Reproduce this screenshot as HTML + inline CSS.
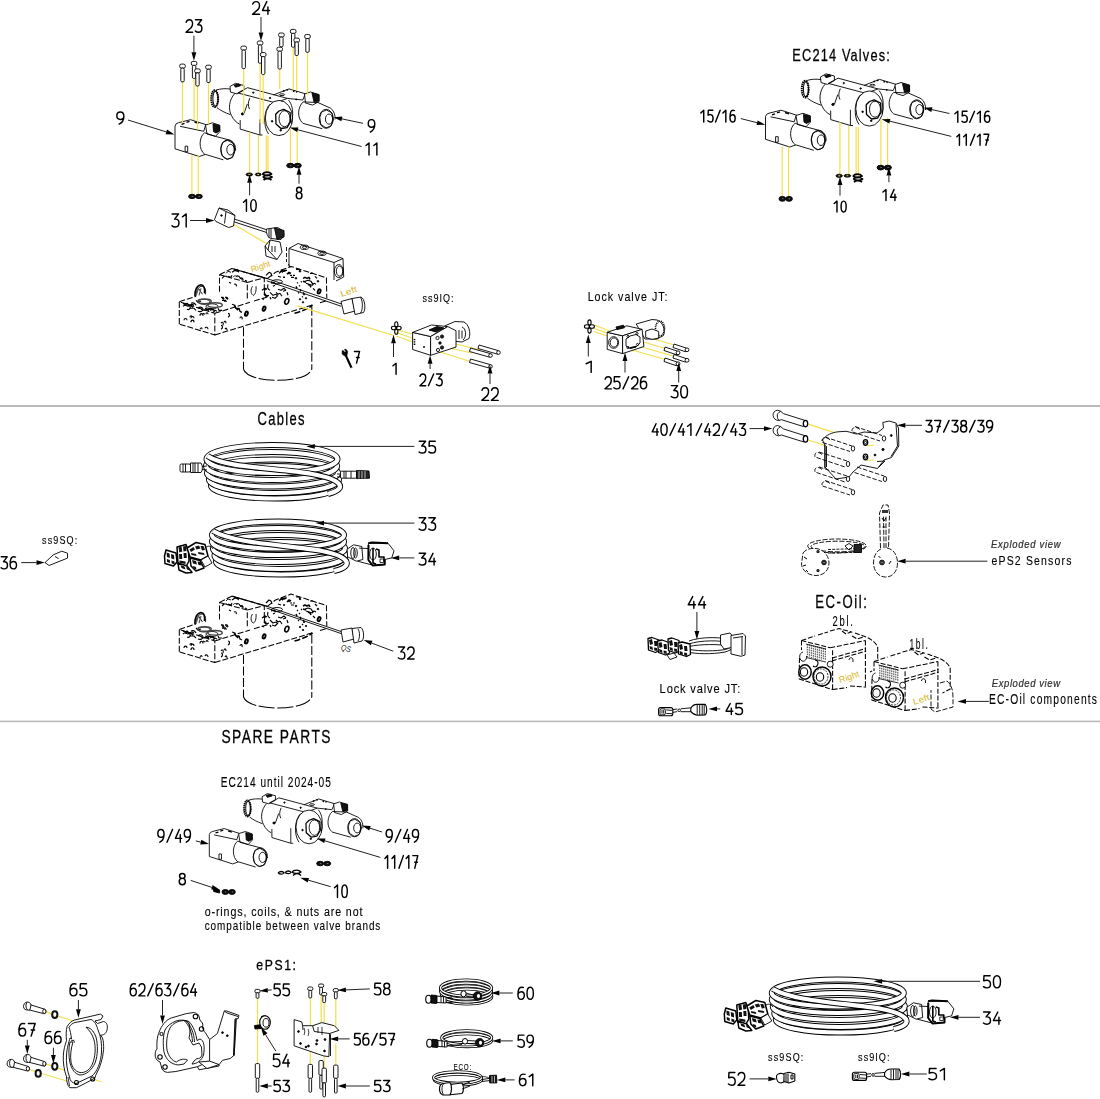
<!DOCTYPE html>
<html><head><meta charset="utf-8"><style>
html,body{margin:0;padding:0;background:#fff;width:1100px;height:1099px;overflow:hidden}
svg{position:absolute;left:0;top:0;display:block}
text{font-family:"Liberation Sans",sans-serif;fill:#000}
.ar line{stroke:#222;stroke-width:1}
.ah{fill:#000}
.sep{fill:#bababa}
.tx{filter:grayscale(1)}
.dr text{stroke:none}
.sd{fill:none;stroke:#000;stroke-width:1.45;stroke-linecap:round;stroke-linejoin:round}
</style></head><body>
<svg width="1100" height="1099" viewBox="0 0 1100 1099">
<rect class="sep" x="0" y="405" width="1100" height="2"/><rect class="sep" x="0" y="720.6" width="1100" height="1.6"/>
<g class="dr"><g fill="none" stroke="#000" stroke-width="0.9" stroke-linejoin="round"><defs>
<g id="V">
 <!-- left valve -->
 <path d="M765.5,139.3 L765.5,116.5 Q766,113.8 769,113.2 L781,110.2 L797,115.3"/>
 <path d="M765.5,139.3 L789.8,147 L795.6,145"/>
 <path d="M770.5,116.8 L794.2,121.8 L796,116"/>
 <path d="M772,114.8 l3,-1 M777,112.8 l3,-1 M785,112.5 l4,1.3" stroke-width="1.4"/>
 <rect x="775.6" y="136.7" width="2.6" height="5.5"/>
 <path d="M796,115.5 L803,113.3 L810.3,115.8 L810.5,122 L806,126.8 L797.5,124.5 Z" fill="#fff"/>
 <path d="M803.5,114.5 L810,116.2 L810,121.5 L806.5,123.5 L804,122 Z" fill="#111"/>
 <path d="M795.2,123.2 C789.5,127 788.5,140 795.6,145.2 M795.2,123.3 L806,126.9 M806,126.9 L821,130.8 C825,133 826.5,137 826,141 M795.6,144.8 L813.8,150.3"/>
 <ellipse cx="818.2" cy="140" rx="7" ry="9.6"/>
 <path d="M813,133 L818,130.8 L824,134 L825.5,141 L823,148 L817.5,149.8 L812.5,146 L811.4,139 Z"/>
 <ellipse cx="821" cy="140.2" rx="3.7" ry="5.3"/>
 <!-- central valve -->
 <ellipse cx="805.2" cy="89.2" rx="3.4" ry="8.3" stroke-width="2.1" stroke-dasharray="1.5 0.6"/>
 <ellipse cx="806" cy="89.2" rx="2.6" ry="7.6" stroke-width="1"/>
 <path d="M806.5,80.6 C811,79.2 816,78.8 821,79.6 M807.5,98.2 C811,101 815,103 821,105.2"/>
 <path d="M820.5,77 L826,73.8 L834.4,76 L834.4,80.6 L827.5,84.4 L821,82.6 Z" fill="#fff"/>
 <path d="M824.5,75.6 l5,-1.2 l1.5,1.8 l-5,1.5z" fill="#111"/>
 <path d="M828.3,83.4 L838.1,78.2 L877.9,88.9 L865.9,93.3 Z"/>
 <path d="M825.2,84.2 C819.5,90 818.5,100 822,106 C824,110.5 827,113 830,114.6 M830.7,110.6 L830.7,119.6 L850.4,125.5 L853,125.5 M850.4,109.8 L850.4,125.4"/>
 <path d="M840.3,88.6 C838.5,93 838.2,96 840,99.5 M837.8,94.5 L834.5,104 L831.5,104.5" />
 <circle cx="833" cy="104.4" r="1.1" fill="#000"/>
 <path d="M860.8,94.5 C854.5,100 853,116 859,124.5"/>
 <ellipse cx="869.4" cy="108.5" rx="13.6" ry="17.6" fill="#fff"/>
 <path d="M869.5,101.5 L874.2,99.8 L880.6,103 L881.2,112 L877.5,118.2 L871.5,119 L866.5,114.5 L866.2,104.8 Z" stroke-width="1.3"/>
 <ellipse cx="875" cy="109.2" rx="5.5" ry="8"/>
 <circle cx="862.6" cy="111.8" r="0.8" fill="#000"/><circle cx="871.2" cy="120.8" r="0.8" fill="#000"/>
 <circle cx="843.8" cy="83.1" r="0.7" fill="#000"/><circle cx="860.6" cy="88.5" r="0.7" fill="#000"/>
 <!-- right valve -->
 <path d="M864,85.4 L879.5,79.4 L895.9,84.3 L893.2,90.5 L877.9,88.9"/>
 <ellipse cx="872.5" cy="85.2" rx="2.6" ry="0.9"/>
 <path d="M873.5,81.8 l1.5,-0.6 M877,80.5 l1.5,-0.3 M883.5,81.5 l1.5,0.5 M886.5,82.2 l1.2,0.4 M886,89.8 l1.5,0.2" stroke-width="1.6"/>
 <path d="M879.1,90.6 C882.5,95 883.6,100 883,108 C882.8,111 882.4,113 882.3,114.2"/>
 <path d="M895,84.5 L901,82.5 L909.6,85 L909.6,92 L903,95.6 L896,93.5 Z" fill="#fff"/>
 <path d="M902.5,83.6 L909.3,85.5 L909.3,91.5 L904.5,92.5 Z" fill="#111"/>
 <path d="M893.7,92.4 C888.5,97 887,108 893.1,113.4 M893.7,92.4 L908.4,93 L921.1,98.7 C924.5,101 926,106 925.5,110 M893.3,113.8 L912.8,119.2"/>
 <ellipse cx="916.7" cy="109.3" rx="7" ry="9.5" fill="#fff"/>
 <path d="M912,102.5 L917,100.5 L922.5,103.5 L923.8,110 L921.5,116.5 L916.5,118.3 L911.3,115 L910.3,108 Z"/>
 <ellipse cx="919.5" cy="109.6" rx="3.6" ry="5.1"/>
</g>
</defs>
<g fill="none" stroke="#000" stroke-width="0.9" stroke-linejoin="round">
<use href="#V"/>
<use href="#V" transform="translate(-590.5,9.5)"/>
<use href="#V" transform="translate(209.3,856.5) scale(0.96) translate(-765.5,-139.3)"/>
</g>

<line x1="839.90" y1="122.00" x2="839.90" y2="174.50" stroke="#f2df4a" stroke-width="1.2"/>
<line x1="848.80" y1="125.90" x2="848.80" y2="174.50" stroke="#f2df4a" stroke-width="1.2"/>
<line x1="856.10" y1="126.90" x2="856.10" y2="176.00" stroke="#f2df4a" stroke-width="1.2"/>
<line x1="858.30" y1="126.90" x2="858.30" y2="176.00" stroke="#f2df4a" stroke-width="1.2"/>
<line x1="880.90" y1="119.50" x2="880.90" y2="166.00" stroke="#f2df4a" stroke-width="1.2"/>
<line x1="887.60" y1="117.50" x2="887.60" y2="166.00" stroke="#f2df4a" stroke-width="1.2"/>
<line x1="782.20" y1="146.50" x2="782.20" y2="197.50" stroke="#f2df4a" stroke-width="1.2"/>
<line x1="788.60" y1="146.50" x2="788.60" y2="197.50" stroke="#f2df4a" stroke-width="1.2"/>
<ellipse cx="839.20" cy="175.80" rx="3.20" ry="1.60" fill="#111" stroke="#000" stroke-width="0.8"/>
<ellipse cx="839.20" cy="175.80" rx="1.12" ry="0.64" fill="#f2df4a" stroke="none"/>
<ellipse cx="847.40" cy="175.80" rx="3.40" ry="1.40" fill="#111" stroke="#000" stroke-width="0.8"/>
<ellipse cx="847.40" cy="175.80" rx="1.19" ry="0.56" fill="#f2df4a" stroke="none"/>
<path d="M853,176 c2,-2.5 7,-2.5 9,0 c-2,2 -7,2 -9,0 M853.5,179 c2,-2.5 7,-2.5 9,0 c-2,2 -7,2 -9,0 M854,182 c2,-2 6,-2 8,0" fill="none" stroke="#000" stroke-width="1.8"/>
<ellipse cx="880.67" cy="167.60" rx="3.57" ry="2.40" fill="#111"/>
<ellipse cx="881.07" cy="167.60" rx="1.43" ry="0.96" fill="#888"/>
<ellipse cx="887.83" cy="167.60" rx="3.57" ry="2.40" fill="#111"/>
<ellipse cx="888.23" cy="167.60" rx="1.43" ry="0.96" fill="#888"/>
<ellipse cx="782.35" cy="198.85" rx="3.35" ry="2.45" fill="#111"/>
<ellipse cx="782.75" cy="198.85" rx="1.34" ry="0.98" fill="#888"/>
<ellipse cx="789.05" cy="198.85" rx="3.35" ry="2.45" fill="#111"/>
<ellipse cx="789.45" cy="198.85" rx="1.34" ry="0.98" fill="#888"/>
<line x1="243.70" y1="68.60" x2="243.70" y2="113.60" stroke="#f2df4a" stroke-width="1.2"/>
<line x1="260.10" y1="63.20" x2="260.10" y2="123.00" stroke="#f2df4a" stroke-width="1.2"/>
<line x1="263.20" y1="74.50" x2="263.20" y2="124.00" stroke="#f2df4a" stroke-width="1.2"/>
<line x1="279.70" y1="69.00" x2="279.70" y2="89.00" stroke="#f2df4a" stroke-width="1.2"/>
<line x1="293.20" y1="47.20" x2="293.20" y2="90.00" stroke="#f2df4a" stroke-width="1.2"/>
<line x1="296.70" y1="55.50" x2="296.70" y2="91.00" stroke="#f2df4a" stroke-width="1.2"/>
<line x1="307.50" y1="52.30" x2="307.50" y2="95.00" stroke="#f2df4a" stroke-width="1.2"/>
<line x1="182.50" y1="81.90" x2="182.50" y2="122.70" stroke="#f2df4a" stroke-width="1.2"/>
<line x1="194.10" y1="78.40" x2="194.10" y2="120.00" stroke="#f2df4a" stroke-width="1.2"/>
<line x1="197.50" y1="86.00" x2="197.50" y2="129.60" stroke="#f2df4a" stroke-width="1.2"/>
<line x1="208.50" y1="82.50" x2="208.50" y2="124.10" stroke="#f2df4a" stroke-width="1.2"/>
<rect x="240.90" y="46.10" width="5.60" height="4.00" rx="1.6" fill="#fff"/>
<rect x="242.00" y="50.10" width="3.40" height="18.50" rx="1.2" fill="#fff"/>
<rect x="257.30" y="41.00" width="5.60" height="4.00" rx="1.6" fill="#fff"/>
<rect x="258.40" y="45.00" width="3.40" height="18.20" rx="1.2" fill="#fff"/>
<rect x="260.40" y="52.60" width="5.60" height="4.00" rx="1.6" fill="#fff"/>
<rect x="261.50" y="56.60" width="3.40" height="17.90" rx="1.2" fill="#fff"/>
<rect x="276.90" y="47.20" width="5.60" height="4.00" rx="1.6" fill="#fff"/>
<rect x="278.00" y="51.20" width="3.40" height="17.80" rx="1.2" fill="#fff"/>
<rect x="278.60" y="33.00" width="5.60" height="4.00" rx="1.6" fill="#fff"/>
<rect x="279.70" y="37.00" width="3.40" height="9.80" rx="1.2" fill="#fff"/>
<rect x="290.40" y="29.40" width="5.60" height="4.00" rx="1.6" fill="#fff"/>
<rect x="291.50" y="33.40" width="3.40" height="13.80" rx="1.2" fill="#fff"/>
<rect x="293.90" y="38.10" width="5.60" height="4.00" rx="1.6" fill="#fff"/>
<rect x="295.00" y="42.10" width="3.40" height="13.40" rx="1.2" fill="#fff"/>
<rect x="304.70" y="34.50" width="5.60" height="4.00" rx="1.6" fill="#fff"/>
<rect x="305.80" y="38.50" width="3.40" height="13.80" rx="1.2" fill="#fff"/>
<rect x="179.70" y="64.10" width="5.60" height="4.00" rx="1.6" fill="#fff"/>
<rect x="180.80" y="68.10" width="3.40" height="13.80" rx="1.2" fill="#fff"/>
<rect x="191.30" y="61.40" width="5.60" height="4.00" rx="1.6" fill="#fff"/>
<rect x="192.40" y="65.40" width="3.40" height="13.00" rx="1.2" fill="#fff"/>
<rect x="194.70" y="68.90" width="5.60" height="4.00" rx="1.6" fill="#fff"/>
<rect x="195.80" y="72.90" width="3.40" height="13.10" rx="1.2" fill="#fff"/>
<rect x="205.70" y="65.20" width="5.60" height="4.00" rx="1.6" fill="#fff"/>
<rect x="206.80" y="69.20" width="3.40" height="13.30" rx="1.2" fill="#fff"/>
<line x1="249.60" y1="132.00" x2="249.60" y2="173.00" stroke="#f2df4a" stroke-width="1.2"/>
<line x1="258.40" y1="134.90" x2="258.40" y2="173.00" stroke="#f2df4a" stroke-width="1.2"/>
<line x1="266.30" y1="135.60" x2="266.30" y2="173.00" stroke="#f2df4a" stroke-width="1.2"/>
<line x1="268.00" y1="135.60" x2="268.00" y2="173.00" stroke="#f2df4a" stroke-width="1.2"/>
<line x1="290.40" y1="128.40" x2="290.40" y2="165.50" stroke="#f2df4a" stroke-width="1.2"/>
<line x1="297.20" y1="126.20" x2="297.20" y2="165.50" stroke="#f2df4a" stroke-width="1.2"/>
<line x1="191.90" y1="155.00" x2="191.90" y2="195.00" stroke="#f2df4a" stroke-width="1.2"/>
<line x1="198.20" y1="155.00" x2="198.20" y2="195.00" stroke="#f2df4a" stroke-width="1.2"/>
<ellipse cx="249.30" cy="174.50" rx="3.30" ry="1.50" fill="#111" stroke="#000" stroke-width="0.8"/>
<ellipse cx="249.30" cy="174.50" rx="1.15" ry="0.60" fill="#f2df4a" stroke="none"/>
<ellipse cx="258.20" cy="174.50" rx="3.00" ry="1.40" fill="#111" stroke="#000" stroke-width="0.8"/>
<ellipse cx="258.20" cy="174.50" rx="1.05" ry="0.56" fill="#f2df4a" stroke="none"/>
<path d="M262.5,174 c2,-2.5 7,-2.5 9,0 c-2,2 -7,2 -9,0 M263,177 c2,-2.5 7,-2.5 9,0 c-2,2 -7,2 -9,0 M263.5,180 c2,-2 6,-2 8,0" fill="none" stroke="#000" stroke-width="1.8"/>
<ellipse cx="290.35" cy="165.55" rx="3.65" ry="2.25" fill="#111"/>
<ellipse cx="290.75" cy="165.55" rx="1.46" ry="0.90" fill="#888"/>
<ellipse cx="297.65" cy="165.55" rx="3.65" ry="2.25" fill="#111"/>
<ellipse cx="298.05" cy="165.55" rx="1.46" ry="0.90" fill="#888"/>
<ellipse cx="192.03" cy="196.45" rx="3.43" ry="2.15" fill="#111"/>
<ellipse cx="192.43" cy="196.45" rx="1.37" ry="0.86" fill="#888"/>
<ellipse cx="198.88" cy="196.45" rx="3.43" ry="2.15" fill="#111"/>
<ellipse cx="199.28" cy="196.45" rx="1.37" ry="0.86" fill="#888"/>
<ellipse cx="320.20" cy="863.55" rx="3.50" ry="2.25" fill="#111"/>
<ellipse cx="320.60" cy="863.55" rx="1.40" ry="0.90" fill="#888"/>
<ellipse cx="327.20" cy="863.55" rx="3.50" ry="2.25" fill="#111"/>
<ellipse cx="327.60" cy="863.55" rx="1.40" ry="0.90" fill="#888"/>
<path d="M278,873 c2,-2 5,-2 6,0 c-1,1.5 -4,1.5 -6,0 M285,872.5 c2,-2 5,-2 6,0 c-1,1.5 -4,1.5 -6,0 M292,872 c2,-2.5 7,-2.5 9,0 c-2,2 -7,2 -9,0 M293,875.5 c2,-2.5 6,-2.5 8,0" fill="none" stroke="#000" stroke-width="1.3"/>
<path d="M213.6,888.5 l6,1.5 l0,3 l-6,-1.5z" fill="#000"/>
<ellipse cx="225.32" cy="891.95" rx="3.33" ry="2.45" fill="#111"/>
<ellipse cx="225.72" cy="891.95" rx="1.33" ry="0.98" fill="#888"/>
<ellipse cx="231.98" cy="891.95" rx="3.33" ry="2.45" fill="#111"/>
<ellipse cx="232.38" cy="891.95" rx="1.33" ry="0.98" fill="#888"/>
<defs>
<g id="M">
 <g stroke-dasharray="6 2" stroke-width="1.05">
  <path d="M179.3,651.8 L179.3,629.4 L214.8,641 L214.8,662.6 L179.3,651.8"/>
  <path d="M214.8,662.6 L312.7,632.7 M320,630.5 L327.3,628.3"/>
  <path d="M214.8,641 L250,630 M254,628.8 L268,624.5"/>
  <path d="M179.3,629.4 L196,624"/>
  <path d="M219.5,619.4 L219.5,602.4 L247.3,610.1 L247.3,627.1 M247.3,610.1 L264.3,605.5 L264.3,622.5 M219.5,602.4 L231.8,596.2 L264.3,605.5"/>
  <path d="M267.3,606.4 L275.5,600 L290.9,594.1 L326.4,605.5 L326.8,626"/>
  <path d="M243.5,655 L243.5,697 M311.8,634.5 L311.8,697" stroke-dasharray="9 2.5"/>
  <path d="M243.5,697 C246,704 260,708 277.7,708 C295,708 309,704 311.8,697" stroke-dasharray="16 2.5"/>
  <path d="M294.5,641 C303,638.5 309,636 312.5,632.8" stroke-width="1.6"/>
 </g>
  <path d="M231.8,596.2 L267.3,606.4" stroke-width="1.2"/>
 <path d="M196,624 C196,617 199,614 202,614 C205,614 206,617 205.5,622 M198.5,616 l4,6" />
 <ellipse cx="204" cy="629.5" rx="6" ry="2.5"/><ellipse cx="212" cy="634" rx="6" ry="2.5"/>
 <path d="M185,633 l3,1 l2,-1 l3,2 M190,636 l4,0 l2,2 M201,637 l3,1 l3,-1 l2,2 M222,626 l2,1 M226,626 l2,1 M224,629 l3,0 M232,632 l3,1 l1,3 l3,1 M236,636 l2,2" stroke-width="1.1"/>
 <path d="M226,601 l2,-2 l3,1 M233,605 c1,-2 3,-2 4,0" />
 <path d="M252.5,614 C250.5,617 250.5,621 253,623 C255,623 256.5,619 256,614" />
 <path d="M268,612 c-1,3 0,5 2,6 M270,620 l3,3 l3,-1 l2,2 M278,617 l3,1 l3,-2 l2,2 M280,621 l2,3 M273,614 l2,-1" stroke-width="1.1"/>
 <path d="M279,601 l2,-2 l2,1 M278,604 l3,1 M290,603 l2,0 M293,603 l2,0 M291,605 l3,0 M305,609 l3,-1 l3,1 l2,3 M306,611 l3,1 M299,613 l1,1 M300,617 l1,1 M303,620 l1,1 M298,620 l1,1 M302,624 l1,1" stroke-width="1.2"/>
 <ellipse cx="277" cy="609.5" rx="5.5" ry="2" fill="#fff"/>
 <ellipse cx="246.4" cy="641.4" rx="1.3" ry="2.2" stroke-width="1.9" transform="rotate(20 246.4 641.4)"/>
 <ellipse cx="264.1" cy="636.4" rx="1.3" ry="2.2" stroke-width="1.9" transform="rotate(20 264.1 636.4)"/>
 <ellipse cx="286.8" cy="629.1" rx="1.9" ry="2.9" stroke-width="1.6" transform="rotate(20 286.8 629.1)"/>
 <ellipse cx="319.1" cy="619.1" rx="1.3" ry="2.2" stroke-width="1.9" transform="rotate(20 319.1 619.1)"/>
 <path d="M190,645 c0,-2 2,-2 2,0 M206,642 c0,-2 2,-2 2,0 M200,657 c1,-2 2,-2 2,0 M224,650 c1,-2 2,-1 2,1 M225,657 c1,-2 2,-1 2,1" stroke-width="1.1"/>

 <path d="M183,634 c2,-2 5,-2 7,0 c1,2 -1,4 -3,3 M191,631 c2,-1 4,0 5,2 M198,636 c2,-2 5,-1 5,1 c0,2 -3,3 -5,2 M208,638 c1,-2 4,-2 5,0 M213,640 l2,-2 l2,1 M196,628 l2,2 l3,-1 M218,636 l1,2 l3,0 M203,641 l2,1" stroke-width="1.2"/>
 <path d="M184,648 c0,-2.5 3,-2.5 3,0 M191,646 c0,-2.5 3,-2.5 3,0 M205,656 c1,-2 3,-1 3,1 M221,651 c1,-2 3,-1 2,2 M240,646 c0,-2 3,-2 2,1" stroke-width="1.1"/>
 <path d="M222,606 l2,-2 l3,0 M228,604 l3,1 l1,-2 M236,604 c2,-1 4,0 4,2 M240,606 l2,1 M229,610 l2,1 M234,612 c2,-1 3,1 2,2" stroke-width="1.1"/>
 <path d="M266,616 c-2,2 -2,5 0,7 l2,1 M271,611 l3,-1 l2,2 M276,620 l2,2 l2,-1 M283,619 l3,-1 M287,620 l1,3 M272,625 l3,1 l2,-2 M266,603 l3,-3 l2,1 l1,3" stroke-width="1.2"/>
 <path d="M282,600 l2,-2 l3,0 M296,597 l3,0 l1,2 M310,601 l3,0 M315,604 l2,2 M309,612 l3,1 l2,-2 l2,1 M313,616 l2,2 M297,610 l1,1 M301,609 l1,1" stroke-width="1.2"/>
 <circle cx="289" cy="601" r="0.8" fill="#000"/><circle cx="300" cy="599" r="0.8" fill="#000"/><circle cx="296" cy="606" r="0.8" fill="#000"/><circle cx="318" cy="609" r="0.8" fill="#000"/>
 <circle cx="304" cy="622" r="0.7" fill="#000"/><circle cx="306" cy="626" r="0.7" fill="#000"/><circle cx="300" cy="627" r="0.7" fill="#000"/><circle cx="303" cy="630" r="0.7" fill="#000"/>

 <path d="M195,624 C194.5,618 197,613 201,612.5 C204,612.5 205,616 204.5,621" stroke-width="1.6"/>
 <path d="M196.5,622 l2,-6 M199,623 l2,-7" stroke-width="1.2" stroke="#555"/>
 <ellipse cx="204.5" cy="629" rx="6.8" ry="2.3" stroke-width="1.4" stroke="#444"/>
 <ellipse cx="215" cy="632.8" rx="7.3" ry="2.3" stroke-width="1.4" stroke="#444"/>
 <path d="M183,631 l2,1 l2,-1 l2,2 l3,-1 l2,1 M205,636 l3,1 l2,-1 l3,1 l2,2 M210,638 l2,-1 M234,633 l2,3 l3,0 l1,3 l2,1 M221,625 l2,0 l1,2 M225,625 l2,0 l1,2 M222,628 l4,0" stroke-width="1.3"/>
 <path d="M200,643.5 c0,-3 3,-3 3,0 M191,650 c0,-3 3,-3 3,0 M228,641 c2,0 2,3 0,4 M221,653 c2,0 2,3 0,4" stroke-width="1.2"/>
 <path d="M232,600 l3,-2 l3,1 M236,598 c2,-1 3,1 2,2 M240,606 c2,-1 3,0 3,2 M245,608 l2,1" stroke-width="1.3"/>
 <path d="M280,600 l2,-2 l2,1 l2,-1 M287,602 l2,-2 l2,1 M283,605 l2,0 M303,606 l2,-1 l2,1 l2,-1 l1,2 M303,609 l3,1 M308,612 l2,1 l1,2 M296,614 l1,2 M300,618 l1,1" stroke-width="1.5"/>
 <path d="M262,618 l3,-2 l2,1 M264,622 l2,2 l3,-1 M270,625 l1,2 M262,626 l2,1" stroke-width="1.3"/>
</g>
</defs>

<use href="#M"/>
<use href="#M" transform="translate(0,-327.7)"/>
<!-- QS cable middle -->
<path d="M266,606 L341,631.5 M266.5,608 L341,633.5" stroke-width="0.9"/>
<path d="M341,630 L352,628 L354,639 L343,642 Z" fill="#fff"/>
<path d="M352,628.5 L361,627.5 C364,630 364.5,638 362,641 L354,643 Z" fill="#fff"/>
<path d="M358,629 C360,632 360,638 358,641" />
<text x="340.5" y="650" font-size="8" font-style="italic" style="fill:#222;stroke:none" transform="rotate(12 340 650)" textLength="10" lengthAdjust="spacingAndGlyphs">QS</text>
<!-- top extras -->
<path d="M231.7,223.2 L272.6,247.1" stroke="#f2df4a" stroke-width="1.2"/>
<path d="M297.4,305.9 L394,335.5" stroke="#f2df4a" stroke-width="1.2"/>
<path d="M214.5,219.5 L219,208 L228,210 L235,215.5 L233.5,226 L228.5,227.5 L216,221.5 Z" fill="#fff"/>
<path d="M219,208 L226,211.5 L224.5,223.5 M226,211.5 L235,215.5" />
<circle cx="221.5" cy="215.5" r="0.8" fill="#000"/>
<path d="M234.8,219.2 L267.5,230 M234,221.8 L267,232.6" />
<path d="M266.5,229 L277,227.5 C281,228.5 284,232 284,235 L281,239.5 L270.5,238.5 C267,236.5 266,232 266.5,229 Z" fill="#fff"/>
<path d="M274.5,228 L284,230.5 L284,237 L277,239.5 Z" fill="#222"/>
<path d="M269,229 l0,9 M271,228.5 l0,9.5" />
<path d="M265,246 L270,240 L280,242 L282,252 L277,259.5 L266,256 Z" fill="#fff"/>
<path d="M270,240 L268,250 L277,259.5 M268,250 L265,246 M272,246 l0,6 M275,246 l0,6" />
<!-- extra valve block -->
<g stroke-dasharray="4 2"><path d="M286.5,247 L286.5,262 M288.5,264 L290,268"/></g>
<path d="M289,248.5 L298,243.5 L343,258.5 L343.7,277 L336,281 M289,248.5 L334,262.5 L343,258.5 M334,262.5 L334,280 M289,248.5 L289,266"/>
<ellipse cx="304.5" cy="247.3" rx="4.2" ry="2.2"/><ellipse cx="304.5" cy="247.3" rx="2.2" ry="1.1"/>
<ellipse cx="322" cy="253.3" rx="4.2" ry="2.2"/><ellipse cx="322" cy="253.3" rx="2.2" ry="1.1"/>
<ellipse cx="338.8" cy="271.1" rx="4.5" ry="6.5"/><ellipse cx="339.5" cy="271.1" rx="3.2" ry="5"/>
<!-- top cable to Left connector -->
<path d="M267,278.5 L341.5,304 M266.8,280.8 L341.3,306.3" />
<path d="M341,301.5 L352,298.5 L355,311 L344,314 Z" fill="#fff"/>
<path d="M352,298.5 L361,297 C365,299 366,309 363.5,312.5 L355,314.5 Z" fill="#fff"/>
<path d="M360.5,297.5 C363,301 363,310 360.5,313" />
<text x="252" y="272.5" font-size="8.6" style="fill:#d9b52a;stroke:none" transform="rotate(-19 252 272.5)" textLength="20" lengthAdjust="spacingAndGlyphs">Right</text>
<text x="341.5" y="297" font-size="8.6" style="fill:#d9b52a;stroke:none" transform="rotate(-19 341.5 297)" textLength="17" lengthAdjust="spacingAndGlyphs">Left</text>

<!-- ss9IQ lock block -->
<path d="M412,334 L394,329 M412,338 L396,332.5 M413,342 L396,336" stroke="#f2df4a" stroke-width="1.1"/>
<path d="M440,340 L480,350 M440,346 L472,353 M440,352 L472,362" stroke="#f2df4a" stroke-width="1.1"/>
<path d="M444.5,326 L455,321.5 L464,322 C469,324.5 471,333 469,338.5 L462,342 L452,341 Z" fill="#fff"/>
<path d="M462,327 C466,328 467,337 463,340 M459,330 L459,339 M462,330.5 l0,8" />
<path d="M412.6,332.4 L430.6,336.5 L430.6,355.3 L412.6,349.5 Z" fill="#fff"/>
<path d="M412.6,332.4 L431.5,325 L447.8,326.6 L430.6,336.5 Z" fill="#fff"/>
<path d="M430.6,336.5 L447.8,326.6 L456,330.7 L456,347.1 L430.6,355.3 Z" fill="#fff"/>
<path d="M429,330 L437,326.5 L444,328 L436,332 Z" fill="#111"/>
<path d="M414.5,339 l0,6" stroke-width="1.6" stroke-dasharray="1 0.7"/>
<circle cx="424" cy="347" r="0.6" fill="#000"/>
<circle cx="437.5" cy="338" r="1.6"/><circle cx="442" cy="336.5" r="1.6" fill="#222"/>
<circle cx="438" cy="350" r="1.6"/><circle cx="442" cy="347.5" r="1.6" fill="#222"/><circle cx="440" cy="343" r="1.2" fill="#222"/>
<g fill="#fff">
<path d="M479,345 L498,350.5 A1.5,1.8 0 0,1 497,354 L478,348.5 Z"/><circle cx="498.5" cy="352.5" r="1.8"/>
<path d="M470.5,348 L490,353.5 A1.5,1.8 0 0,1 489,357 L469.5,351.5 Z"/><circle cx="490.5" cy="355.5" r="1.8"/>
<path d="M470.5,359 L490,364.5 A1.5,1.8 0 0,1 489,368 L469.5,362.5 Z"/><circle cx="490.5" cy="366.5" r="1.8"/>
</g>
<g stroke-width="1.1"><ellipse cx="396.3" cy="324.5" rx="1.6" ry="2.8"/><ellipse cx="396.3" cy="331.5" rx="1.6" ry="2.8"/><ellipse cx="394" cy="328" rx="2.6" ry="1.8"/><ellipse cx="398.6" cy="328" rx="2.6" ry="1.8"/></g>
<!-- wrench 7 -->
<path d="M342.2,350.5 L343.8,351 L344.8,352.6 L345.8,351.4 L344.5,349.4 L346,349.2 L347.6,351.2 L347.2,354.6 L346.8,356 L345.5,356.3 L343.6,355.2 L342.1,354 Z" fill="#000" stroke-width="0.6"/>
<path d="M345.6,355 L351.6,368" stroke-width="2.1"/>
<circle cx="351.6" cy="368.2" r="0.7" fill="#fff" stroke="none"/>
<!-- Lock valve JT -->
<path d="M594,325 L610,331 M594,328.5 L610,334 M594,331.5 L610,337" stroke="#f2df4a" stroke-width="1.1"/>
<path d="M640,335 L676,345.5 M640,341 L667,349 M632,344 L676,357 M632,350 L667,360" stroke="#f2df4a" stroke-width="1.1"/>
<path d="M636.2,324 L652,319.5 L657,320 C663,322 665.5,330 663.5,335.5 L657,339 L645,339 Z" fill="#fff"/>
<ellipse cx="660" cy="328.5" rx="4.5" ry="7.3" stroke-width="1.6" stroke-dasharray="1 0.8"/>
<path d="M645.7,331 L652,329 L658.7,331.5 L658.7,338 L652,339.4 L645.7,337.5 Z" fill="#fff"/>
<path d="M607.2,332.3 L622.6,335.8 L622.6,353.6 L607.2,349.4 Z" fill="#fff"/>
<path d="M607.2,332.3 L626.7,325.8 L642.1,329.3 L622.6,335.8 Z" fill="#fff"/>
<path d="M622.6,335.8 L642.1,329.3 L643.9,346.5 L622.6,353.6 Z" fill="#fff"/>
<ellipse cx="613.6" cy="342.5" rx="5" ry="5.8"/><ellipse cx="614" cy="342.5" rx="3.8" ry="4.6"/>
<path d="M616,327 L623.5,325.2 L624.4,327.8 L617,329.6 Z" fill="#111"/>
<path d="M626,339 L630,336 L636,334.5 L640,337 L640,343 L636,347 L630,348.5 L626,346 Z"/>
<circle cx="628" cy="336.5" r="1.1"/><circle cx="637" cy="333.5" r="1.1"/><circle cx="628" cy="347.5" r="1.1"/><circle cx="637.5" cy="344.5" r="1.1"/>
<path d="M630,348 L636,346.5" stroke-width="1.8"/>
<g fill="#fff">
<path d="M674,344 L686,348 A1.6,1.9 0 0,1 685,351.6 L673,347.5 Z"/><circle cx="687" cy="349.8" r="1.9"/>
<path d="M665,347 L677,351 A1.6,1.9 0 0,1 676,354.6 L664,350.5 Z"/><circle cx="678" cy="352.8" r="1.9"/>
<path d="M674,354.5 L686,358.5 A1.6,1.9 0 0,1 685,362 L673,358 Z"/><circle cx="687" cy="360.3" r="1.9"/>
<path d="M665,358 L677,362 A1.6,1.9 0 0,1 676,365.6 L664,361.5 Z"/><circle cx="678" cy="363.8" r="1.9"/>
</g>
<g stroke-width="1.1"><ellipse cx="589.5" cy="322.5" rx="1.6" ry="2.6"/><ellipse cx="589.5" cy="330.5" rx="1.6" ry="2.6"/><ellipse cx="587" cy="326.5" rx="2.6" ry="1.8"/><ellipse cx="591.8" cy="326.5" rx="2.6" ry="1.8"/></g>

<path d="M211.00,485.50 a64.00,13.00 0 1,0 128.00,0 a64.00,13.00 0 1,0 -128.00,0" fill="none" stroke="#000" stroke-width="6.00"/>
<path d="M211.00,485.50 a64.00,13.00 0 1,0 128.00,0 a64.00,13.00 0 1,0 -128.00,0" fill="none" stroke="#fff" stroke-width="4.20"/>
<path d="M209.00,479.50 a65.00,13.50 0 1,0 130.00,0 a65.00,13.50 0 1,0 -130.00,0" fill="none" stroke="#000" stroke-width="6.00"/>
<path d="M209.00,479.50 a65.00,13.50 0 1,0 130.00,0 a65.00,13.50 0 1,0 -130.00,0" fill="none" stroke="#fff" stroke-width="4.20"/>
<path d="M207.00,473.00 a65.50,13.50 0 1,0 131.00,0 a65.50,13.50 0 1,0 -131.00,0" fill="none" stroke="#000" stroke-width="6.00"/>
<path d="M207.00,473.00 a65.50,13.50 0 1,0 131.00,0 a65.50,13.50 0 1,0 -131.00,0" fill="none" stroke="#fff" stroke-width="4.20"/>
<path d="M206.00,466.00 a65.50,14.00 0 1,0 131.00,0 a65.50,14.00 0 1,0 -131.00,0" fill="none" stroke="#000" stroke-width="6.00"/>
<path d="M206.00,466.00 a65.50,14.00 0 1,0 131.00,0 a65.50,14.00 0 1,0 -131.00,0" fill="none" stroke="#fff" stroke-width="4.20"/>
<path d="M206.50,459.00 a65.50,14.00 0 1,0 131.00,0 a65.50,14.00 0 1,0 -131.00,0" fill="none" stroke="#000" stroke-width="6.00"/>
<path d="M206.50,459.00 a65.50,14.00 0 1,0 131.00,0 a65.50,14.00 0 1,0 -131.00,0" fill="none" stroke="#fff" stroke-width="4.20"/>
<path d="M207.5,456 C225,468 280,468 312,474 C340,479 350,488 328,494" fill="none" stroke="#000" stroke-width="6.00"/>
<path d="M207.5,456 C225,468 280,468 312,474 C340,479 350,488 328,494" fill="none" stroke="#fff" stroke-width="4.20"/>
<path d="M216.00,561.50 a65.00,13.00 0 1,0 130.00,0 a65.00,13.00 0 1,0 -130.00,0" fill="none" stroke="#000" stroke-width="6.00"/>
<path d="M216.00,561.50 a65.00,13.00 0 1,0 130.00,0 a65.00,13.00 0 1,0 -130.00,0" fill="none" stroke="#fff" stroke-width="4.20"/>
<path d="M214.50,555.50 a65.50,13.50 0 1,0 131.00,0 a65.50,13.50 0 1,0 -131.00,0" fill="none" stroke="#000" stroke-width="6.00"/>
<path d="M214.50,555.50 a65.50,13.50 0 1,0 131.00,0 a65.50,13.50 0 1,0 -131.00,0" fill="none" stroke="#fff" stroke-width="4.20"/>
<path d="M213.00,548.50 a66.00,13.50 0 1,0 132.00,0 a66.00,13.50 0 1,0 -132.00,0" fill="none" stroke="#000" stroke-width="6.00"/>
<path d="M213.00,548.50 a66.00,13.50 0 1,0 132.00,0 a66.00,13.50 0 1,0 -132.00,0" fill="none" stroke="#fff" stroke-width="4.20"/>
<path d="M212.00,541.50 a66.00,13.50 0 1,0 132.00,0 a66.00,13.50 0 1,0 -132.00,0" fill="none" stroke="#000" stroke-width="6.00"/>
<path d="M212.00,541.50 a66.00,13.50 0 1,0 132.00,0 a66.00,13.50 0 1,0 -132.00,0" fill="none" stroke="#fff" stroke-width="4.20"/>
<path d="M212.00,535.00 a66.00,13.50 0 1,0 132.00,0 a66.00,13.50 0 1,0 -132.00,0" fill="none" stroke="#000" stroke-width="6.00"/>
<path d="M212.00,535.00 a66.00,13.50 0 1,0 132.00,0 a66.00,13.50 0 1,0 -132.00,0" fill="none" stroke="#fff" stroke-width="4.20"/>
<path d="M213,531 C235,544 290,545 322,551 C348,556 356,566 334,571" fill="none" stroke="#000" stroke-width="6.00"/>
<path d="M213,531 C235,544 290,545 322,551 C348,556 356,566 334,571" fill="none" stroke="#fff" stroke-width="4.20"/>
<path d="M775.80,1019.50 a65.00,13.00 0 1,0 130.00,0 a65.00,13.00 0 1,0 -130.00,0" fill="none" stroke="#000" stroke-width="6.00"/>
<path d="M775.80,1019.50 a65.00,13.00 0 1,0 130.00,0 a65.00,13.00 0 1,0 -130.00,0" fill="none" stroke="#fff" stroke-width="4.20"/>
<path d="M774.30,1013.50 a65.50,13.50 0 1,0 131.00,0 a65.50,13.50 0 1,0 -131.00,0" fill="none" stroke="#000" stroke-width="6.00"/>
<path d="M774.30,1013.50 a65.50,13.50 0 1,0 131.00,0 a65.50,13.50 0 1,0 -131.00,0" fill="none" stroke="#fff" stroke-width="4.20"/>
<path d="M772.80,1006.50 a66.00,13.50 0 1,0 132.00,0 a66.00,13.50 0 1,0 -132.00,0" fill="none" stroke="#000" stroke-width="6.00"/>
<path d="M772.80,1006.50 a66.00,13.50 0 1,0 132.00,0 a66.00,13.50 0 1,0 -132.00,0" fill="none" stroke="#fff" stroke-width="4.20"/>
<path d="M771.80,999.50 a66.00,13.50 0 1,0 132.00,0 a66.00,13.50 0 1,0 -132.00,0" fill="none" stroke="#000" stroke-width="6.00"/>
<path d="M771.80,999.50 a66.00,13.50 0 1,0 132.00,0 a66.00,13.50 0 1,0 -132.00,0" fill="none" stroke="#fff" stroke-width="4.20"/>
<path d="M771.80,993.00 a66.00,13.50 0 1,0 132.00,0 a66.00,13.50 0 1,0 -132.00,0" fill="none" stroke="#000" stroke-width="6.00"/>
<path d="M771.80,993.00 a66.00,13.50 0 1,0 132.00,0 a66.00,13.50 0 1,0 -132.00,0" fill="none" stroke="#fff" stroke-width="4.20"/>
<path d="M772.8,989.0 C794.8,1002.0 849.8,1003.0 881.8,1009.0 C907.8,1014.0 915.8,1024.0 893.8,1029.0" fill="none" stroke="#000" stroke-width="6.00"/>
<path d="M772.8,989.0 C794.8,1002.0 849.8,1003.0 881.8,1009.0 C907.8,1014.0 915.8,1024.0 893.8,1029.0" fill="none" stroke="#fff" stroke-width="4.20"/>
<defs>
<g id="SS">
 <g fill="#fff" stroke="#000" stroke-width="1.5">
 <path d="M164.5,556 L166,550 L176,553 L177,562 L173.5,566 L165,563.5 Z"/>
 <path d="M177,547 L186,544.5 L188.5,551 L189,561 L186,566.5 L178,564 Z"/>
 <path d="M187,548 L196,542.5 L205,544.5 L208,556 L201,560 L190,557 Z"/>
 <path d="M178,563 L187,566 L192,572.5 L186,573 L179,570 Z"/>
 <path d="M190,558 L200,560.5 L204,568 L196,571 L191,566 Z"/>
 <path d="M201,560 L208,556 L212,563 L205,567 Z" stroke-width="0.9"/>
 </g>
 <g fill="#111" stroke="none">
  <path d="M166.5,552.5 l3,1 l0.5,4.5 l-3,-1 Z M171,554 l3,1 l0.3,4.5 l-3,-1 Z M166.8,559 l3,1 l0.3,3 l-3,-1 Z M171.5,560.5 l3,1 l0.2,3 l-3,-1 Z"/>
  <path d="M178.5,547.5 l3,-1 l0.8,5 l-3,1 Z M183,546.5 l3,-0.5 l0.5,5 l-3,0.5 Z M179,554 l3,0 l0.3,5 l-3,0 Z M183.5,553 l3,0 l0.3,5 l-3,0 Z M179.5,560.5 l6,1 l0,2.5 l-6,-1 Z"/>
  <path d="M189.5,549.5 l4,-2.5 l1.5,2.5 l-4,2.5 Z M195,546.5 l4,-1 l1.5,3 l-4,1 Z M200.5,546 l3,0 l1.5,4 l-3,0.5 Z M191,553 l5,1 l0.5,2 l-5,-1 Z M198,552 l6,1 l0.5,2 l-6,-1 Z"/>
  <path d="M180.5,565 l4,1.5 l1,3 l-4,-1.5 Z M186,567 l3,1 l1,2.5 l-3,-1 Z"/>
  <path d="M192,560 l4,1 l1,3.5 l-4,-1 Z M197.5,561.5 l3.5,0.5 l1,3.5 l-3.5,-0.5 Z M193,566 l3,1 l0.5,2.5 l-3,-1 Z"/>
 </g>
 <path d="M205,548 C208,545 212,546 213,549" />
</g>
<g id="C34">
 <path d="M347.1,549.2 L353.6,544.8 L361.8,546.5 L362.9,559.5 L356.4,561.2 L347.6,556.8 Z" fill="#fff"/>
 <ellipse cx="353" cy="553" rx="2.2" ry="5.5"/><ellipse cx="355.5" cy="553" rx="1.8" ry="5"/>
 <path d="M359.1,548.1 L369.5,548.6 M357.5,561.2 L372.2,565"/>
 <path d="M368.4,543.2 L388,543.2 L394,550.8 L391.8,557.9 L384.7,559.5 L384.7,564.5 L372.7,565.5 L368.4,560 Z" fill="#fff"/>
 <path d="M368.4,543.2 L372,542.5 L388,543.2 M368.5,545 L368.4,560 L372.7,565.5 L384.7,564.5 L384.7,559.5" stroke-width="2"/>
 <ellipse cx="373" cy="554" rx="3.3" ry="6"/>
 <path d="M373,548 L373,563 L376,564 M376,549 L379,550 L379,557 L384,557 L384,561" stroke-width="1.6"/>
 <rect x="380" y="559" width="3.5" height="3.5" fill="#fff" stroke-width="0.8"/>
</g>
</defs>
<use href="#SS"/><use href="#SS" transform="translate(559.8,458)"/>
<use href="#C34"/><use href="#C34" transform="translate(559.8,458)"/>
<!-- cable 35 connectors -->
<path d="M202,466.5 L207,466 M202,469.5 L207,470"/>
<rect x="180" y="464" width="10.5" height="8" rx="1.5" fill="#fff"/>
<path d="M190.5,463 L201,463 L202.3,466 L202.3,470 L201,472.5 L190.5,472.5 Z" fill="#fff"/>
<path d="M183,464 l0,8 M185.5,464 l0,8 M193,463 l0,9.5 M195,463 l0,9.5 M198,463 l0,9.5" />
<path d="M337,474 L341,474 M337,477 L341,477"/>
<rect x="340.5" y="471.2" width="16" height="7" rx="1" fill="#fff"/>
<path d="M344,471.2 l0,7 M346,471.2 l0,7 M351,471.2 l0,7"/>
<path d="M356.5,470.5 L369,471 L369.5,478.2 L356.5,478.6 Z" fill="#222"/>
<path d="M359,471 l0,7.5 M362,471 l0,7.5 M365,471 l0,7.5" stroke="#fff" stroke-width="0.7"/>
<!-- 36 part -->
<path d="M45,562.6 L53.2,554.9 L61.8,551.2 L67.5,553.2 L67.5,558.1 L49.1,565.5 Z" fill="#fff"/>
<path d="M55,556.5 L58.6,558.6"/>

<!-- bolts 40-43 -->
<path d="M808.3,424.1 L837.5,433.6 M808.3,440 L826.1,445.7" stroke="#f2df4a" stroke-width="1.2"/>
<defs><g id="B40">
<path d="M777.6,410.2 L780.7,411.3 L783.4,413.6 L805.5,420.6 L805.5,426.6 L803.6,426.8 L781.5,419.7 L778.8,420.5 Z" fill="#fff" stroke="none"/>
<path d="M777.6,410.2 C774.5,410.5 772.8,413 773.1,415.5 C773.3,418.5 776,420.5 778.8,420.5"/>
<path d="M780.7,411.3 C778,412.5 777,414.5 777.3,416 C777.5,418.5 778.2,419.8 779.2,420.1"/>
<path d="M777.6,410.2 L780.7,411.3 L783.4,413.6 L805.5,420.6 M778.8,420.5 L781.5,419.7 L803.6,426.6"/>
<ellipse cx="805.5" cy="423.6" rx="2.2" ry="3.2" fill="#fff" stroke-width="1.3"/>
</g></defs>
<use href="#B40"/><use href="#B40" transform="translate(0,15.3)"/>
<!-- plate -->
<path d="M822.5,440 C826,435 832,432.5 838,431.8 L846,431.3 C851,432 854,434 857,434 L864,432 L877,433 L883.5,428 L882.8,422.5 L889,421 L896,423 L898.5,428 L898.8,446 L891.5,457.5 L884,460 L877.5,468.5 L861,465 L853,472 L849,477 L836,479 L825,467 L825,445 Z" fill="#fff"/>
<path d="M826.5,446 L826.5,467 M824.8,444.5 L824.8,468.6" />
<path d="M896,424 L897.5,446 L891,456.5" />
<path d="M877,461.5 L885,461 L878.5,467.5"/>
<ellipse cx="865.5" cy="442.5" rx="2.2" ry="2.8" fill="#fff" stroke-width="1.3"/><ellipse cx="865.5" cy="442.5" rx="1" ry="1.3"/>
<ellipse cx="865.5" cy="457" rx="2.2" ry="2.8" fill="#fff" stroke-width="1.3"/><ellipse cx="865.5" cy="457" rx="1" ry="1.3"/>
<circle cx="883" cy="449.5" r="1.1" fill="#000"/><circle cx="891.3" cy="435.5" r="0.9" fill="#000"/><circle cx="875" cy="455" r="0.9" fill="#000"/>
<path d="M867,446 L874,445 M867,460.5 L874,460" stroke="#f2df4a" stroke-width="1.1"/>
<!-- dashed phantom bolts -->
<g stroke-dasharray="4.5 1.8" fill="none">
<path d="M825,437 L852,446 M822.5,442.5 L850,451.5 M830,440 C826,436 821,437 822,443"/>
<path d="M819,452 L847,461 M816.5,457.5 L845,467 M822,454.5 C818,451 814,452 815,457.5"/>
<path d="M819,467 L847,476 M816.5,472.5 L845,482 M822,469.5 C818,466 814,467 815,472.5"/>
<path d="M825,480.5 L852,489.5 M822.5,486 L850,495 M830,483.5 C826,480 821,481 822,486.5"/>
<path d="M855,426.5 L882,435.5 M852.5,432 L880,441 M860,429.5 C856,426 851,427 852,432.5"/>
<path d="M857,467 L884,476 M854.5,472.5 L882,481.5"/>
</g>
<g fill="#fff" stroke-width="0.9">
<ellipse cx="853" cy="448.5" rx="1.7" ry="2.6"/><ellipse cx="848" cy="464" rx="1.7" ry="2.6"/><ellipse cx="848" cy="479" rx="1.7" ry="2.6"/>
<ellipse cx="853" cy="492.3" rx="1.7" ry="2.6"/><ellipse cx="884" cy="438.5" rx="1.7" ry="2.6"/><ellipse cx="885" cy="479" rx="1.7" ry="2.6"/>
</g>

<g stroke-dasharray="5 1.6">
 <ellipse cx="837" cy="546" rx="29.3" ry="7"/>
 <ellipse cx="838" cy="546.5" rx="27" ry="5.3"/>
 <path d="M803,553 C806,549 811,548 816,548.5 C824,549.5 829,556 829,563 C829,570 824,575.5 816,575.5 C809,575.5 802,571 801.5,564 Z" fill="#fff"/>
 <path d="M887,548 C894,549 897.5,556 897.5,563 C897.5,571 893,577 885.5,577 C878,577 873.5,570 873.5,563 C873.5,556 877,550 882,548.5" />
 <path d="M880.5,548 L879.5,513 L883,505 L888,505 L889.5,513 L888.5,548 M884,548 L883.5,515 M886,548 L886,515"/>
</g>
<path d="M828,549.5 L861,548.5 M828,553 L861,552" stroke-dasharray="3 1.2"/>
<path d="M854,544.5 L861.5,544.5 L861.5,552.5 L854,552.5 Z" fill="#222"/>
<path d="M845,546 L849,543.5 L853,546 L849,550 Z"/>
<circle cx="824" cy="562.5" r="2.3" fill="#555"/><circle cx="824" cy="562.5" r="1" fill="#fff"/>
<circle cx="818" cy="551.5" r="1" stroke-width="1.2"/><circle cx="818" cy="570.5" r="1" stroke-width="1.2"/>
<path d="M804,557 l3,2 M803,566 l3,-1 M806,570 l2,2" stroke-width="1"/>
<circle cx="882" cy="562.5" r="2.4" fill="#666"/><circle cx="882" cy="562.5" r="1" fill="#fff"/>
<path d="M883,512 L886,512 M882,518 l2,3 l2,-3 M882.5,527 l3,0" stroke-width="1"/>
<rect x="882" y="510" width="6" height="3" fill="#333" stroke="none"/>
<path d="M878.5,556 l2,2 M891,561 l-2,3" stroke-width="1"/>

<defs>
<g id="EO">
 <path d="M801.2,640.1 L839,628.6 L872.7,639.6 L877.7,647 L877,668 L866.2,688 L832.6,690 L799.1,679 Z" fill="#fff" stroke="none"/>
 <g stroke-dasharray="5 1.8" stroke-width="1.05">
  <path d="M801.5,640.5 L815,636 M818,635 L828,632 M830,631 L839.2,628.6 L852.3,632.3 M855,633 L866,637 C872,639.5 876,643 877.7,647"/>
  <path d="M831.8,661 L866.2,651.1 M832,658 L866,648.5"/>
  <path d="M830.2,647.8 L865.4,640.5"/>
  <path d="M832.6,650.3 L832.6,689.6 M865.4,640.5 L865.4,688 M877.7,647 L877.7,668 L870,672"/>
  <path d="M832.6,689.6 L847,687.5 M850,686 L866.2,687.1 M799.1,678.9 L832.6,689.6"/>
  <path d="M801.5,640.5 L801.5,650 M799.5,658 L799.1,678.9"/>
  <path d="M801.5,640.5 L830.2,647.8"/>
  <path d="M842,631 L846,634 L851,632 M852,636 L857,639 L864,637"/>
 </g>
 <path d="M807.3,644 l0,13 M809.3,644.5 l0,13 M811.3,645 l0,13 M813.3,645.5 l0,13 M815.3,646 l0,13 M817.3,646.5 l0,13 M819.3,647 l0,12.5 M821.3,647.5 l0,12.5 M823.3,648 l0,12 M825.3,648.5 l0,12" stroke-width="0.75" stroke-dasharray="1.6 0.8"/>
 <path d="M806,644 L826,649 M806,657.5 L826,662" stroke-width="0.8"/>
 <path d="M803,652 C799,653 798.5,659 802,661 C805,662 807,659 806.5,656" fill="#fff"/>
 <circle cx="830.2" cy="664.2" r="3" fill="#fff"/>
 <path d="M815,660 c3,0 4,3 2,6 c-1,1 -3,1 -4,0" stroke-width="1.1"/>
 <ellipse cx="822" cy="676.5" rx="9" ry="9.4" fill="#fff" stroke-width="1.5"/>
 <ellipse cx="821" cy="676.5" rx="7" ry="7.6" fill="none" stroke-width="0.8" stroke-dasharray="2 1"/>
 <ellipse cx="820" cy="677" rx="3.7" ry="4.2" fill="#fff" stroke-width="1.1"/>
 <ellipse cx="805" cy="672" rx="6.2" ry="7.2" fill="#fff" stroke-width="1.5"/>
 <ellipse cx="804" cy="672" rx="3.7" ry="4.2" fill="#fff" stroke-width="1.1"/>
 <path d="M849,660 c0,-3 4,-3 4,0 l0,2" />
</g>
</defs>
<use href="#EO"/>
<use href="#EO" transform="translate(72.5,21)"/>
<g stroke-dasharray="5 1.8">
 <path d="M940,683 L947,681 C951,684 953,690 953,697 L953,707 L935,712 L931,709 L931,690"/>
</g>
<text x="840" y="683" font-size="8.8" style="fill:#d9b52a;stroke:none" transform="rotate(-18 840 683)" textLength="21" lengthAdjust="spacingAndGlyphs">Right</text>
<text x="914" y="705" font-size="8.8" style="fill:#d9b52a;stroke:none" transform="rotate(-18 914 705)" textLength="17" lengthAdjust="spacingAndGlyphs">Left</text>

<defs>
<g id="LV">
 <rect x="852.4" y="1072.2" width="14.2" height="8.2" rx="2" fill="#fff" stroke-width="1.1"/>
 <rect x="853.8" y="1073.4" width="5.4" height="6" rx="1.5"/>
 <path d="M855.8,1074.6 l0,3.6 M857.5,1074.6 l0,3.6 M860,1074.5 L866,1075 M860,1078 L866,1078.3"/>
 <path d="M866.6,1074.2 L871,1073.6 M866.6,1077 L871,1076.2" />
 <circle cx="873" cy="1074.9" r="1.3"/>
 <path d="M874.5,1073.4 L885,1072.4 M874.5,1076.3 L885,1076.3" />
 <path d="M884.6,1073 C886,1070 889,1069 891,1069 L899,1069 C901,1071 901,1078 899,1079.5 L891,1079.8 C888.5,1079.5 886,1078 884.6,1076 Z" fill="#fff" stroke-width="1.1"/>
 <path d="M891,1069.5 l0,10 M893.5,1069.2 l0,10.5 M896,1069.2 l0,10.5 M898,1069.5 l0,10" stroke-width="0.9"/>
</g>
</defs>
<use href="#LV"/>
<use href="#LV" transform="translate(-193.8,-364.6)"/>
<!-- 52 -->
<path d="M776.5,1077 C776,1074.5 779,1073 782,1073.5 L785,1074.5 L784,1082 L781,1083 C778,1083 776.5,1080 776.5,1077 Z" fill="#fff" stroke-width="1.1"/>
<path d="M784,1073.5 L789,1072.2 L794.8,1074 L794.8,1081 L789,1083 L784,1081.5 Z" fill="#fff" stroke-width="1.1"/>
<path d="M786,1074 l0,8 M788,1073.5 l0,9 M791,1075 l2,0 l0,4 l-2,0 Z" stroke-width="1"/>
<!-- 44 cable -->
<g stroke-width="0.9">
 <path d="M689,641 C700,636.5 725,636.5 733,641 C736,645 733,650 725,652 C712,654.5 695,654 688,652"/>
 <path d="M689,644 C700,640 722,640 730,643 C733,646 730,649 722,650 C710,651.5 695,651 688,649"/>
 <path d="M689,646.5 C700,644 720,644 728,646"/>
</g>
<path d="M720.5,635 L730,633 L734,638 L734,647 L724,649 L720.5,644 Z" fill="#fff"/>
<path d="M731,635.5 L743,633.5 L745.5,636 L745,655 L741,656.3 L731,654 Z" fill="#fff"/>
<path d="M733,638 L743,636.5 M742,637 L742,655" />
<g fill="#fff" stroke="#000" stroke-width="1.3">
 <path d="M648,638.5 L652,637.5 L659,640 L659.5,650.5 L655.5,652.5 L648.5,650 Z"/>
 <path d="M657.5,641 L662,640 L669,642.5 L669.5,653 L665.5,655 L658.5,652.5 Z"/>
 <path d="M668,639 L672,638 L679,640.5 L679.5,651 L675.5,653 L668.5,650.5 Z"/>
 <path d="M678,643 L682,642 L690,644 L690.5,654.5 L686.5,656.5 L678.5,654 Z"/>
</g>
<g fill="#111" stroke="none">
 <path d="M649,640 l3,-1 l1,5 l-3,1 Z M654,641 l3,0 l0.5,5 l-3,0 Z M649.5,646 l3,1 l0.5,3 l-3,-1 Z M654,647.5 l3,0.5 l0.3,3 l-3,-0.5 Z"/>
 <path d="M658.5,643 l3,-1 l1,5 l-3,1 Z M663.5,644 l3,0 l0.5,5 l-3,0 Z M659,649 l3,1 l0.5,3 l-3,-1 Z M663.5,650.5 l3,0.5 l0.3,3 l-3,-0.5 Z"/>
 <path d="M669,641 l3,-1 l1,5 l-3,1 Z M674,642 l3,0 l0.5,5 l-3,0 Z M669.5,647 l3,1 l0.5,3 l-3,-1 Z M674,648.5 l3,0.5 l0.3,3 l-3,-0.5 Z"/>
 <path d="M679,645 l3,-1 l1,5 l-3,1 Z M684,646 l3,0 l0.5,5 l-3,0 Z M679.5,651 l3,1 l0.5,3 l-3,-1 Z M684,652.5 l3,0.5 l0.3,3 l-3,-0.5 Z"/>
</g>
<path d="M667,655 L674,653 L677,657 L670,659.5 Z" fill="#fff"/>

<!-- bolts, washers, yellow lines (65) -->
<g stroke="#f2df4a" stroke-width="1.2">
 <path d="M45.3,1011.4 L51.3,1014.1 M58.4,1016.3 L74.2,1021.2 M45.3,1063.7 L51.8,1065.9 M58.4,1068.1 L64.4,1070.3 M28.9,1069.2 L34.9,1071.4 M42,1073.5 L67.6,1081.2 M92.7,1079 L101.5,1081.7"/>
</g>
<defs>
<g id="BLT">
 <path d="M30.5,1004.8 L44.7,1009.2 A1.6,2.2 0 0,1 43.6,1013.6 L28.4,1009.7 Z" fill="#fff"/>
 <ellipse cx="44.3" cy="1011.4" rx="1.6" ry="2.2" fill="#fff"/>
 <path d="M26,1002.3 C28.5,1001.5 30.5,1002.5 31,1005 L30,1009.7 C28.5,1010.5 25,1010 24,1008.5 C23,1006.5 23.5,1003.5 26,1002.3 Z" fill="#fff"/>
 <path d="M27,1002.4 C25.5,1004 25.5,1008 27.5,1009.8"/>
</g>
</defs>
<use href="#BLT"/><use href="#BLT" transform="translate(0,52.4)"/><use href="#BLT" transform="translate(-16.4,57.3)"/>
<g fill="none" stroke="#111" stroke-width="2">
 <ellipse cx="54.8" cy="1014.6" rx="2.6" ry="3.4"/><ellipse cx="54.8" cy="1066.3" rx="2.6" ry="3.4"/><ellipse cx="38.2" cy="1073.4" rx="2.6" ry="3.4"/>
</g>
<!-- plate 65 -->
<path d="M67.1,1026.6 C69,1023 72,1021 74.2,1020.1 L100.4,1014.1 L103,1016 L101,1019.5 L95,1021 L97.5,1023.5 L103.5,1021.5 C107,1022 108,1026 107,1030 C106,1034 103,1035.5 100.5,1035 L102.5,1038 C103.5,1041 103.8,1046 103.6,1049.5 C103,1058 100,1068 96,1074.6 L94.9,1077.9 C90,1081 82,1085 76.4,1087.7 L69.8,1087.7 C67,1085 66.5,1080 66.5,1076.8 C64,1070 63,1062 63.3,1056.1 C63.5,1050 65,1045 66.5,1040.8 C66,1035 66,1030 67.1,1026.6 Z" fill="#fff"/>
<path d="M69,1027.5 C70.5,1024.5 73,1023 75,1022.5 L91,1019.5 C95,1021 96.5,1025 98,1030 C101,1036 102,1045 101.5,1052 C101,1062 97,1072 92,1076 L76,1083.5 C72,1083 70,1081 69.5,1077 C67,1070 66,1062 66.5,1055 C67,1047 69,1042 70,1038 L71.5,1039 C71,1034 70,1030 69,1027.5"/>
<path d="M70,1042 C68.5,1048 68.5,1056 70,1063 C72,1070 75,1074 80,1075 C86,1075 92,1070 95,1063 C98,1055 98,1045 96,1037 C94,1032 92,1029 88,1027.5 L86,1027.2 C89,1030 92.5,1034 94,1040 C96,1047 95.5,1057 92,1065 C89,1071 84,1073 80,1072.5 C75,1071.5 72,1067 71,1062 C70,1056 71,1048 73,1042 Z"/>
<path d="M71,1041 L73.5,1040 L74.5,1042.5"/>
<circle cx="76.5" cy="1082.5" r="2" stroke-width="1.1"/><circle cx="92.7" cy="1079" r="2" stroke-width="1.1"/>
<path d="M68,1077 L69.5,1086" stroke-width="0.8"/>
<!-- 62/63/64 -->
<path d="M163.8,1023.6 C166,1021 168.5,1019 171.2,1018 L186.3,1013.6 L192,1012.8 C195,1012 198.5,1013.5 199.2,1017 L200,1020.5 C202,1021.5 203.5,1024 202.5,1027 C203,1030 205,1033 205.3,1032.6 L209.6,1039.5 L217.4,1033.5 L224.3,1011 L226,1010.8 L239,1015.4 L238,1018.8 L236.4,1018.8 L234.2,1055.1 L230.3,1058.5 L222.5,1060.3 L219.1,1064.6 L219.1,1066 L199,1069.8 L197.5,1066.7 L175.9,1071.5 L167.3,1072.4 C164,1072 161.5,1070 161.2,1066 L160,1062 C156.5,1061 155,1057 155.2,1055 C155,1052 156,1050 157,1049 L156.9,1043.9 C157,1040 157.5,1036 158.6,1033.5 C160,1029 162,1026 163.8,1023.6 Z" fill="#fff"/>
<path d="M209.6,1039.5 L209.6,1061.1 L197.5,1066.7 M224.3,1011 L227,1013 L238,1016.5 M236.5,1018.5 L235,1019 L233.5,1055 M235.5,1019.5 L234,1056"/>
<path d="M199,1062 L209.6,1061.1 L219.1,1064.6 L207,1068.5 Z" fill="#fff"/>
<path d="M165,1030 C163,1035 162.8,1045 164,1052 C166,1060 171,1064 178,1065 L184,1064 L187.5,1060 C185,1058.5 180,1059 176.5,1062 C172,1061 168.5,1056 167,1050 C166,1042 167,1034 170,1028 C173,1023 178,1021 184,1020.5 C186,1021 188,1022 189,1023.5 C190,1028 190.5,1033 189,1038 L193,1045 L199,1043 L201.5,1047 L202,1055 C201,1058 199,1059 197,1058.5 L194,1061 L192,1064 C197,1064 202,1060 203.5,1055 C205,1047 204,1040 200,1039 L197,1040.5 C196,1034 194,1027 189,1021.5 C185,1020 180,1019.5 176,1021 C171,1023 167,1026 165,1030 Z" fill="#fff"/>
<path d="M184,1020.5 C189,1025 192,1032 192.5,1042 M186,1020.5 C191,1026 194,1033 194.5,1042"/>
<circle cx="195.5" cy="1016.5" r="2.3" stroke-width="1.1"/><circle cx="201.5" cy="1029" r="2.2" stroke-width="1.1"/>
<circle cx="160" cy="1057" r="2.2" stroke-width="1.1"/><circle cx="165" cy="1067" r="2.2" stroke-width="1.1"/>
<circle cx="161.5" cy="1034" r="1.6" stroke-width="1"/>
<circle cx="222.5" cy="1032.6" r="0.9" fill="#000"/><circle cx="227.3" cy="1035.7" r="0.9" fill="#000"/>

<line x1="257.50" y1="998.20" x2="257.50" y2="1063.60" stroke="#f2df4a" stroke-width="1.2"/>
<line x1="310.30" y1="997.90" x2="310.30" y2="1064.40" stroke="#f2df4a" stroke-width="1.2"/>
<line x1="321.10" y1="994.80" x2="321.10" y2="1023.00" stroke="#f2df4a" stroke-width="1.2"/>
<line x1="324.20" y1="1002.50" x2="324.20" y2="1025.00" stroke="#f2df4a" stroke-width="1.2"/>
<line x1="324.20" y1="1056.00" x2="324.20" y2="1068.20" stroke="#f2df4a" stroke-width="1.2"/>
<line x1="335.80" y1="998.70" x2="335.80" y2="1028.80" stroke="#f2df4a" stroke-width="1.2"/>
<line x1="335.80" y1="1043.50" x2="335.80" y2="1065.10" stroke="#f2df4a" stroke-width="1.2"/>
<path d="M294.1,1019.6 L301.8,1021.9 L302.6,1025.7 L312.6,1025.7 L321.9,1022.6 L334.3,1025.7 L338.9,1030.4 L329.6,1033.5 L328.9,1056.6 L323.5,1055.9 L294.1,1045.8 Z" fill="#fff"/>
<path d="M312.6,1025.7 L314.2,1031.5 L329.6,1033.5 M302.6,1025.7 L303,1030 M328.9,1033.5 L330.5,1034.5 L330.5,1056"/>
<path d="M304,1028 c1,2 1,5 0,7 M308,1029 c1,2 1,5 0,7 M318,1027 l0,6 M322,1027 l0,8" stroke-width="0.8"/>
<circle cx="298.5" cy="1031.5" r="0.9" fill="#000"/>
<circle cx="300.5" cy="1043.5" r="0.9" fill="#000"/>
<circle cx="308.5" cy="1046" r="0.9" fill="#000"/>
<circle cx="317" cy="1040.5" r="0.9" fill="#000"/>
<circle cx="325" cy="1039.5" r="0.9" fill="#000"/>
<circle cx="324.5" cy="1051" r="0.9" fill="#000"/>
<circle cx="306" cy="1047" r="0.9" fill="#000"/>
<circle cx="316.5" cy="1044" r="0.9" fill="#000"/>
<rect x="254.9" y="989.4" width="5.2" height="3.4" rx="1.5" fill="#fff"/>
<rect x="256.1" y="992.8" width="2.8" height="5.4" rx="0.8" fill="#fff"/>
<rect x="255.3" y="1063.6" width="4.4" height="14.7" rx="1.2" fill="#fff"/>
<rect x="256.2" y="1078.3" width="2.6" height="13.9" rx="1" fill="#fff"/>
<rect x="307.7" y="987.0" width="5.2" height="3.4" rx="1.5" fill="#fff"/>
<rect x="308.9" y="990.4" width="2.8" height="7.5" rx="0.8" fill="#fff"/>
<rect x="308.1" y="1064.4" width="4.4" height="13.9" rx="1.2" fill="#fff"/>
<rect x="309.0" y="1078.3" width="2.6" height="13.9" rx="1" fill="#fff"/>
<rect x="318.5" y="984.0" width="5.2" height="3.4" rx="1.5" fill="#fff"/>
<rect x="319.7" y="987.4" width="2.8" height="7.4" rx="0.8" fill="#fff"/>
<rect x="318.9" y="1060.5" width="4.4" height="14.7" rx="1.2" fill="#fff"/>
<rect x="319.8" y="1075.2" width="2.6" height="13.9" rx="1" fill="#fff"/>
<rect x="321.6" y="992.5" width="5.2" height="3.4" rx="1.5" fill="#fff"/>
<rect x="322.8" y="995.9" width="2.8" height="6.6" rx="0.8" fill="#fff"/>
<rect x="322.0" y="1068.2" width="4.4" height="14.7" rx="1.2" fill="#fff"/>
<rect x="322.9" y="1082.9" width="2.6" height="13.9" rx="1" fill="#fff"/>
<rect x="333.2" y="988.6" width="5.2" height="3.4" rx="1.5" fill="#fff"/>
<rect x="334.4" y="992.0" width="2.8" height="6.7" rx="0.8" fill="#fff"/>
<rect x="333.6" y="1065.1" width="4.4" height="13.2" rx="1.2" fill="#fff"/>
<rect x="334.5" y="1078.3" width="2.6" height="14.7" rx="1" fill="#fff"/>
<ellipse cx="265" cy="1022.5" rx="5.3" ry="6.8" fill="#fff" stroke-width="1.1"/><ellipse cx="266" cy="1022.8" rx="3" ry="4.3" fill="#fff"/>
<path d="M261,1017 C262,1016 264,1015.5 266,1015.7" />
<path d="M254.5,1025.5 L260.5,1024.8 L261,1028.5 L255,1029 Z" fill="#000"/>
<path d="M442.20,996.50 a24.80,7.50 0 1,0 49.60,0 a24.80,7.50 0 1,0 -49.60,0" fill="none" stroke="#000" stroke-width="3.10"/>
<path d="M442.20,996.50 a24.80,7.50 0 1,0 49.60,0 a24.80,7.50 0 1,0 -49.60,0" fill="none" stroke="#fff" stroke-width="1.40"/>
<path d="M441.30,994.00 a25.20,8.00 0 1,0 50.40,0 a25.20,8.00 0 1,0 -50.40,0" fill="none" stroke="#000" stroke-width="3.10"/>
<path d="M441.30,994.00 a25.20,8.00 0 1,0 50.40,0 a25.20,8.00 0 1,0 -50.40,0" fill="none" stroke="#fff" stroke-width="1.40"/>
<path d="M440.50,991.00 a25.50,8.00 0 1,0 51.00,0 a25.50,8.00 0 1,0 -51.00,0" fill="none" stroke="#000" stroke-width="3.10"/>
<path d="M440.50,991.00 a25.50,8.00 0 1,0 51.00,0 a25.50,8.00 0 1,0 -51.00,0" fill="none" stroke="#fff" stroke-width="1.40"/>
<path d="M440.50,988.00 a25.50,8.00 0 1,0 51.00,0 a25.50,8.00 0 1,0 -51.00,0" fill="none" stroke="#000" stroke-width="3.10"/>
<path d="M440.50,988.00 a25.50,8.00 0 1,0 51.00,0 a25.50,8.00 0 1,0 -51.00,0" fill="none" stroke="#fff" stroke-width="1.40"/>
<path d="M442.20,1040.20 a24.80,6.40 0 1,0 49.60,0 a24.80,6.40 0 1,0 -49.60,0" fill="none" stroke="#000" stroke-width="3.10"/>
<path d="M442.20,1040.20 a24.80,6.40 0 1,0 49.60,0 a24.80,6.40 0 1,0 -49.60,0" fill="none" stroke="#fff" stroke-width="1.40"/>
<path d="M441.70,1037.80 a25.00,7.00 0 1,0 50.00,0 a25.00,7.00 0 1,0 -50.00,0" fill="none" stroke="#000" stroke-width="3.10"/>
<path d="M441.70,1037.80 a25.00,7.00 0 1,0 50.00,0 a25.00,7.00 0 1,0 -50.00,0" fill="none" stroke="#fff" stroke-width="1.40"/>
<path d="M434.20,1079.60 a23.80,5.40 0 1,0 47.60,0 a23.80,5.40 0 1,0 -47.60,0" fill="none" stroke="#000" stroke-width="3.10"/>
<path d="M434.20,1079.60 a23.80,5.40 0 1,0 47.60,0 a23.80,5.40 0 1,0 -47.60,0" fill="none" stroke="#fff" stroke-width="1.40"/>
<path d="M433.50,1077.50 a24.00,5.80 0 1,0 48.00,0 a24.00,5.80 0 1,0 -48.00,0" fill="none" stroke="#000" stroke-width="3.10"/>
<path d="M433.50,1077.50 a24.00,5.80 0 1,0 48.00,0 a24.00,5.80 0 1,0 -48.00,0" fill="none" stroke="#fff" stroke-width="1.40"/>
<path d="M433,996 L452,998 M433,1001.5 L452,1003" stroke-width="0.9"/>
<ellipse cx="428.5" cy="999.2" rx="2.8" ry="4" fill="#fff" stroke-width="1.1"/>
<path d="M431,995 L436.5,995.5 L436.5,1003.5 L431,1003 Z" fill="#111"/>
<path d="M437,996 L446,997 L446,1003 L437,1002.5 Z" fill="#fff"/><path d="M441,996.5 l0,6 M443.5,996.8 l0,6" />
<path d="M446,997.5 L453,998.5 M446,1002.5 L453,1003"/>
<ellipse cx="463.5" cy="993.8" rx="2.6" ry="3" fill="#fff" stroke-width="1"/><path d="M466,993 L473,995 M466,996 L473,997.5" stroke-width="0.9"/>
<ellipse cx="477.5" cy="996" rx="4.2" ry="4.3" fill="#111"/><ellipse cx="478.5" cy="996" rx="1.6" ry="2" fill="#fff" stroke="none"/>
<ellipse cx="429.5" cy="1043.3" rx="2.8" ry="4" fill="#fff" stroke-width="1.1"/>
<path d="M432,1039.3 L437.5,1039.8 L437.5,1047.5 L432,1047 Z" fill="#111"/>
<path d="M438,1040.5 L447,1041.5 L447,1047 L438,1046.5 Z" fill="#fff"/><path d="M442,1041 l0,6 M444.5,1041.3 l0,6" />
<path d="M447,1042 L462,1041.5 M447,1046 L462,1044.5" stroke-width="0.9"/>
<ellipse cx="465" cy="1041.3" rx="2.6" ry="2.8" fill="#fff" stroke-width="1"/><path d="M467.5,1040.5 L476,1041 M467.5,1043.5 L476,1044" stroke-width="0.9"/>
<ellipse cx="479.7" cy="1042.7" rx="4.2" ry="4.2" fill="#111"/><ellipse cx="480.5" cy="1042.7" rx="1.6" ry="2" fill="#fff" stroke="none"/>
<path d="M482,1079.5 L490,1078.3 M482,1081.5 L490,1080.5" stroke-width="0.9"/>
<path d="M489.5,1075.5 L496.5,1075.2 L496.8,1082.9 L489.7,1082.9 Z" fill="#111"/><path d="M492,1076 l0,6.5 M494.5,1076 l0,6.5" stroke="#fff" stroke-width="0.7"/>
<path d="M480,1077 C484,1076 487,1077 489,1078" stroke-width="0.8"/>
<path d="M450,1084.5 L462,1083 C464,1086 464,1091 462,1093.5 L450,1094.8 Z" fill="#fff" stroke-width="1.1"/>
<path d="M443,1083.5 L450,1082.5 C452,1085 452,1092 450,1094.8 L443,1095 C440.5,1094 439.5,1091 439.5,1089 C439.5,1086 441,1084 443,1083.5 Z" fill="#fff" stroke-width="1.2"/>
<path d="M443.5,1084 C441.5,1086 441.5,1092 443.5,1094.5" />
<path d="M462,1085 L470,1082 M462,1089 L470,1086" stroke-width="0.9"/></g></g>
<g class="ar"><line x1="261.0" y1="17.0" x2="261.0" y2="32.5"/>
<path class="ah" d="M261.0,41.0 L258.6,32.5 L263.4,32.5Z"/>
<line x1="193.9" y1="35.7" x2="193.9" y2="52.2"/>
<path class="ah" d="M193.9,60.7 L191.5,52.2 L196.3,52.2Z"/>
<line x1="128.0" y1="120.0" x2="166.3" y2="131.9"/>
<path class="ah" d="M174.4,134.4 L165.6,134.2 L167.0,129.6Z"/>
<line x1="363.0" y1="123.3" x2="341.9" y2="118.9"/>
<path class="ah" d="M333.6,117.2 L342.4,116.6 L341.4,121.3Z"/>
<line x1="361.6" y1="146.5" x2="297.8" y2="129.8"/>
<path class="ah" d="M289.6,127.6 L298.4,127.4 L297.2,132.1Z"/>
<line x1="299.0" y1="183.6" x2="299.0" y2="174.7"/>
<path class="ah" d="M299.0,166.2 L301.4,174.7 L296.6,174.7Z"/>
<line x1="249.6" y1="195.3" x2="249.6" y2="182.7"/>
<path class="ah" d="M249.6,174.2 L252.0,182.7 L247.2,182.7Z"/>
<line x1="190.0" y1="220.5" x2="206.0" y2="220.5"/>
<path class="ah" d="M214.5,220.5 L206.0,222.9 L206.0,218.1Z"/>
<line x1="393.5" y1="357.0" x2="393.5" y2="343.3"/>
<path class="ah" d="M393.5,334.8 L395.9,343.3 L391.1,343.3Z"/>
<line x1="430.1" y1="369.0" x2="430.1" y2="363.8"/>
<path class="ah" d="M430.1,355.3 L432.5,363.8 L427.7,363.8Z"/>
<line x1="490.0" y1="384.0" x2="490.0" y2="373.5"/>
<path class="ah" d="M490.0,365.0 L492.4,373.5 L487.6,373.5Z"/>
<line x1="588.3" y1="356.5" x2="588.3" y2="343.1"/>
<path class="ah" d="M588.3,334.6 L590.7,343.1 L585.9,343.1Z"/>
<line x1="625.0" y1="372.5" x2="625.0" y2="360.9"/>
<path class="ah" d="M625.0,352.4 L627.4,360.9 L622.6,360.9Z"/>
<line x1="678.7" y1="382.5" x2="678.7" y2="370.9"/>
<path class="ah" d="M678.7,362.4 L681.1,370.9 L676.3,370.9Z"/>
<line x1="740.8" y1="118.6" x2="757.1" y2="122.7"/>
<path class="ah" d="M765.3,124.8 L756.5,125.0 L757.6,120.4Z"/>
<line x1="949.4" y1="113.5" x2="931.9" y2="109.6"/>
<path class="ah" d="M923.6,107.8 L932.4,107.3 L931.4,112.0Z"/>
<line x1="951.3" y1="136.4" x2="889.9" y2="121.2"/>
<path class="ah" d="M881.6,119.2 L890.4,118.9 L889.3,123.6Z"/>
<line x1="840.0" y1="195.6" x2="840.0" y2="185.0"/>
<path class="ah" d="M840.0,176.5 L842.4,185.0 L837.6,185.0Z"/>
<line x1="888.9" y1="182.2" x2="888.9" y2="175.5"/>
<path class="ah" d="M888.9,167.0 L891.3,175.5 L886.5,175.5Z"/>
<line x1="414.4" y1="446.4" x2="314.8" y2="446.4"/>
<path class="ah" d="M306.3,446.4 L314.8,444.0 L314.8,448.8Z"/>
<line x1="414.4" y1="523.1" x2="324.0" y2="523.1"/>
<path class="ah" d="M315.5,523.1 L324.0,520.7 L324.0,525.5Z"/>
<line x1="414.4" y1="557.9" x2="399.2" y2="557.9"/>
<path class="ah" d="M390.7,557.9 L399.2,555.5 L399.2,560.3Z"/>
<line x1="393.2" y1="651.2" x2="371.7" y2="643.1"/>
<path class="ah" d="M363.7,640.1 L372.5,640.8 L370.8,645.3Z"/>
<line x1="21.3" y1="562.6" x2="36.5" y2="562.6"/>
<path class="ah" d="M45.0,562.6 L36.5,565.0 L36.5,560.2Z"/>
<line x1="749.6" y1="428.6" x2="764.0" y2="428.6"/>
<path class="ah" d="M772.5,428.6 L764.0,431.0 L764.0,426.2Z"/>
<line x1="922.0" y1="425.3" x2="905.4" y2="425.3"/>
<path class="ah" d="M896.9,425.3 L905.4,422.9 L905.4,427.7Z"/>
<line x1="987.3" y1="561.2" x2="905.6" y2="561.2"/>
<path class="ah" d="M897.1,561.2 L905.6,558.8 L905.6,563.6Z"/>
<line x1="696.9" y1="611.9" x2="696.9" y2="631.0"/>
<path class="ah" d="M696.9,639.5 L694.5,631.0 L699.3,631.0Z"/>
<line x1="720.2" y1="708.9" x2="717.0" y2="708.9"/>
<path class="ah" d="M708.5,708.9 L717.0,706.5 L717.0,711.3Z"/>
<line x1="988.9" y1="701.4" x2="966.0" y2="701.4"/>
<path class="ah" d="M957.5,701.4 L966.0,699.0 L966.0,703.8Z"/>
<line x1="195.8" y1="840.9" x2="200.7" y2="842.1"/>
<path class="ah" d="M209.0,844.0 L200.2,844.4 L201.3,839.7Z"/>
<line x1="382.1" y1="832.0" x2="369.9" y2="828.2"/>
<path class="ah" d="M361.8,825.6 L370.6,825.9 L369.2,830.4Z"/>
<line x1="380.3" y1="857.4" x2="324.8" y2="840.8"/>
<path class="ah" d="M316.7,838.4 L325.5,838.5 L324.2,843.1Z"/>
<line x1="190.7" y1="880.4" x2="211.9" y2="887.4"/>
<path class="ah" d="M220.0,890.0 L211.2,889.6 L212.7,885.1Z"/>
<line x1="330.7" y1="886.7" x2="308.4" y2="880.2"/>
<path class="ah" d="M300.2,877.8 L309.0,877.9 L307.7,882.5Z"/>
<line x1="78.4" y1="1000.0" x2="78.4" y2="1009.2"/>
<path class="ah" d="M78.4,1017.7 L76.0,1009.2 L80.8,1009.2Z"/>
<line x1="162.5" y1="1000.0" x2="162.5" y2="1015.4"/>
<path class="ah" d="M162.5,1023.9 L160.1,1015.4 L164.9,1015.4Z"/>
<line x1="27.3" y1="1039.8" x2="27.3" y2="1045.6"/>
<path class="ah" d="M27.3,1054.1 L24.9,1045.6 L29.7,1045.6Z"/>
<line x1="53.4" y1="1047.7" x2="53.4" y2="1055.1"/>
<path class="ah" d="M53.4,1063.6 L51.0,1055.1 L55.8,1055.1Z"/>
<line x1="271.7" y1="989.9" x2="267.8" y2="990.2"/>
<path class="ah" d="M259.3,991.0 L267.6,987.9 L268.0,992.6Z"/>
<line x1="369.8" y1="988.9" x2="345.9" y2="989.9"/>
<path class="ah" d="M337.4,990.2 L345.8,987.5 L346.0,992.3Z"/>
<line x1="275.9" y1="1051.2" x2="265.4" y2="1034.5"/>
<path class="ah" d="M260.9,1027.3 L267.5,1033.2 L263.4,1035.8Z"/>
<line x1="349.7" y1="1038.9" x2="338.1" y2="1038.9"/>
<path class="ah" d="M329.6,1038.9 L338.1,1036.5 L338.1,1041.3Z"/>
<line x1="271.7" y1="1086.0" x2="267.8" y2="1086.0"/>
<path class="ah" d="M259.3,1086.0 L267.8,1083.6 L267.8,1088.4Z"/>
<line x1="369.8" y1="1086.0" x2="345.9" y2="1086.0"/>
<path class="ah" d="M337.4,1086.0 L345.9,1083.6 L345.9,1088.4Z"/>
<line x1="512.8" y1="993.0" x2="499.4" y2="993.0"/>
<path class="ah" d="M490.9,993.0 L499.4,990.6 L499.4,995.4Z"/>
<line x1="512.8" y1="1040.9" x2="500.6" y2="1040.9"/>
<path class="ah" d="M492.1,1040.9 L500.6,1038.5 L500.6,1043.3Z"/>
<line x1="514.6" y1="1079.9" x2="505.3" y2="1079.9"/>
<path class="ah" d="M496.8,1079.9 L505.3,1077.5 L505.3,1082.3Z"/>
<line x1="980.0" y1="981.3" x2="882.1" y2="981.3"/>
<path class="ah" d="M873.6,981.3 L882.1,978.9 L882.1,983.7Z"/>
<line x1="980.0" y1="1017.3" x2="958.5" y2="1017.3"/>
<path class="ah" d="M950.0,1017.3 L958.5,1014.9 L958.5,1019.7Z"/>
<line x1="749.5" y1="1078.9" x2="768.3" y2="1078.9"/>
<path class="ah" d="M776.8,1078.9 L768.3,1081.3 L768.3,1076.5Z"/>
<line x1="926.8" y1="1074.0" x2="909.4" y2="1074.0"/>
<path class="ah" d="M900.9,1074.0 L909.4,1071.6 L909.4,1076.4Z"/></g>
<g class="tx"><path id="t0" class="sd" d="M 252.67,4.13 C 253.23,2.25 254.49,1.62 256.03,1.62 C 258.13,1.62 259.53,3.38 259.53,5.64 C 259.53,7.27 258.97,8.28 258.13,9.41 L 252.53,14.18 L 259.53,14.18 M 266.81,1.62 L 262.47,10.41 L 269.47,10.41 M 267.93,6.90 L 267.93,14.18"/>
<path id="t1" class="sd" d="M 186.16,22.32 C 186.68,20.45 187.86,19.83 189.30,19.83 C 191.26,19.83 192.57,21.57 192.57,23.81 C 192.57,25.43 192.05,26.42 191.26,27.54 L 186.03,32.28 L 192.57,32.28 M 195.46,19.83 L 201.55,19.83 L 197.81,24.81 C 198.08,24.81 198.47,24.81 198.73,24.81 C 200.89,24.81 201.87,26.67 201.87,28.54 C 201.87,31.03 200.57,32.28 198.60,32.28 C 197.16,32.28 195.98,31.78 195.33,31.03"/>
<path id="t2" class="sd" d="M 123.87,116.30 C 123.87,118.73 122.46,119.46 120.35,119.46 C 118.23,119.46 116.82,118.24 116.82,115.81 C 116.82,113.38 118.23,111.92 120.35,111.92 C 122.46,111.92 123.87,113.38 123.87,116.30 C 123.87,119.94 122.11,122.86 119.08,124.07"/>
<path id="t3" class="sd" d="M 374.78,124.07 C 374.78,126.54 373.47,127.28 371.50,127.28 C 369.54,127.28 368.23,126.05 368.23,123.58 C 368.23,121.11 369.54,119.62 371.50,119.62 C 373.47,119.62 374.78,121.11 374.78,124.07 C 374.78,127.78 373.14,130.74 370.32,131.97"/>
<path id="t4" class="sd" d="M 366.03,145.58 L 369.01,142.92 L 369.01,154.97 M 373.89,145.58 L 376.88,142.92 L 376.88,154.97"/>
<path id="t5" class="sd" d="M 299.10,192.35 C 297.38,192.35 296.57,191.19 296.57,189.79 C 296.57,188.16 297.61,187.22 299.10,187.22 C 300.60,187.22 301.63,188.16 301.63,189.79 C 301.63,191.19 300.82,192.35 299.10,192.35 C 297.26,192.35 296.23,193.75 296.23,195.61 C 296.23,197.71 297.38,198.88 299.10,198.88 C 300.82,198.88 301.98,197.71 301.98,195.61 C 301.98,193.75 300.94,192.35 299.10,192.35 Z"/>
<path id="t6" class="sd" d="M 243.53,202.19 L 246.44,199.62 L 246.44,211.28 M 253.47,199.62 C 251.04,199.62 250.77,203.70 250.77,205.45 C 250.77,207.20 251.04,211.28 253.47,211.28 C 255.90,211.28 256.18,207.20 256.18,205.45 C 256.18,203.70 255.90,199.62 253.47,199.62 Z"/>
<path id="t7" class="sd" d="M 172.16,213.92 L 178.61,213.92 L 174.66,219.14 C 174.94,219.14 175.35,219.14 175.63,219.14 C 177.92,219.14 178.96,221.10 178.96,223.06 C 178.96,225.67 177.57,226.97 175.49,226.97 C 173.97,226.97 172.72,226.45 172.03,225.67 M 182.43,216.80 L 186.18,213.92 L 186.18,226.97"/>
<text id="t8" x="422.50" y="301.99" font-size="10.85" textLength="37.31" lengthAdjust="spacing" transform="matrix(0.8308273041837007,0,0,1,71.48,0)" style="stroke:#000;stroke-width:0.12">ss9IQ:</text>
<path id="t9" class="sd" d="M 392.93,365.71 L 396.07,363.33 L 396.07,374.18"/>
<path id="t10" class="sd" d="M 420.04,376.36 C 420.50,374.61 421.55,374.03 422.82,374.03 C 424.56,374.03 425.72,375.66 425.72,377.75 C 425.72,379.27 425.26,380.20 424.56,381.25 L 419.93,385.68 L 425.72,385.68 M 433.66,374.03 L 428.44,385.68 M 436.50,374.03 L 441.89,374.03 L 438.58,378.69 C 438.81,378.69 439.16,378.69 439.39,378.69 C 441.31,378.69 442.18,380.43 442.18,382.18 C 442.18,384.51 441.02,385.68 439.28,385.68 C 438.00,385.68 436.96,385.21 436.38,384.51"/>
<path id="t11" class="sd" d="M 481.96,390.34 C 482.50,388.45 483.72,387.83 485.20,387.83 C 487.23,387.83 488.58,389.58 488.58,391.84 C 488.58,393.47 488.04,394.48 487.23,395.61 L 481.83,400.38 L 488.58,400.38 M 491.55,390.34 C 492.09,388.45 493.31,387.83 494.80,387.83 C 496.82,387.83 498.18,389.58 498.18,391.84 C 498.18,393.47 497.63,394.48 496.82,395.61 L 491.42,400.38 L 498.18,400.38"/>
<path id="t12" class="sd" d="M 354.43,351.43 L 359.58,351.43 L 356.49,363.08 M 356.49,357.48 L 359.16,357.48"/>
<text id="t13" x="587.70" y="300.88" font-size="12.00" textLength="89.68" lengthAdjust="spacing" transform="matrix(0.8898459779286774,0,0,1,64.74,0)" style="stroke:#000;stroke-width:0.12">Lock valve JT:</text>
<path id="t14" class="sd" d="M 586.12,363.76 L 591.17,361.33 L 591.17,372.38"/>
<path id="t15" class="sd" d="M 605.15,379.16 C 605.65,377.33 606.77,376.73 608.14,376.73 C 610.01,376.73 611.26,378.43 611.26,380.61 C 611.26,382.19 610.76,383.16 610.01,384.26 L 605.02,388.88 L 611.26,388.88 M 619.80,376.73 L 614.38,376.73 L 614.13,381.83 C 615.13,381.22 616.25,381.10 617.31,381.22 C 619.18,381.46 620.11,383.41 620.11,385.23 C 620.11,387.66 618.87,388.88 617.00,388.88 C 615.75,388.88 614.63,388.39 613.88,387.66 M 628.66,376.73 L 623.04,388.88 M 631.71,379.16 C 632.21,377.33 633.33,376.73 634.70,376.73 C 636.57,376.73 637.82,378.43 637.82,380.61 C 637.82,382.19 637.32,383.16 636.57,384.26 L 631.59,388.88 L 637.82,388.88 M 645.74,376.97 C 645.12,376.73 644.49,376.73 643.87,376.73 C 641.56,376.73 640.44,380.37 640.44,384.26 C 640.44,387.42 641.69,388.88 643.56,388.88 C 645.43,388.88 646.67,387.17 646.67,384.87 C 646.67,382.56 645.43,381.34 643.68,381.34 C 642.31,381.34 641.06,382.19 640.44,383.77"/>
<path id="t16" class="sd" d="M 671.36,385.62 L 677.60,385.62 L 673.78,390.49 C 674.05,390.49 674.45,390.49 674.72,390.49 C 676.93,390.49 677.94,392.31 677.94,394.13 C 677.94,396.56 676.60,397.78 674.58,397.78 C 673.11,397.78 671.90,397.29 671.23,396.56 M 684.12,385.62 C 681.10,385.62 680.76,389.88 680.76,391.70 C 680.76,393.52 681.10,397.78 684.12,397.78 C 687.14,397.78 687.48,393.52 687.48,391.70 C 687.48,389.88 687.14,385.62 684.12,385.62 Z"/>
<text id="t17" x="792.37" y="60.83" font-size="16.93" textLength="128.88" lengthAdjust="spacing" transform="matrix(0.7556081518352089,0,0,1,193.65,0)" style="stroke:#000;stroke-width:0.3">EC214 Valves:</text>
<path id="t18" class="sd" d="M 700.93,112.89 L 703.73,110.32 L 703.73,121.97 M 712.81,110.32 L 708.29,110.32 L 708.09,115.22 C 708.92,114.64 709.85,114.52 710.73,114.64 C 712.29,114.87 713.07,116.73 713.07,118.48 C 713.07,120.81 712.03,121.97 710.47,121.97 C 709.44,121.97 708.50,121.51 707.88,120.81 M 720.18,110.32 L 715.51,121.97 M 723.03,112.89 L 725.83,110.32 L 725.83,121.97 M 734.40,110.56 C 733.88,110.32 733.36,110.32 732.84,110.32 C 730.92,110.32 729.99,113.82 729.99,117.55 C 729.99,120.58 731.02,121.97 732.58,121.97 C 734.14,121.97 735.17,120.34 735.17,118.13 C 735.17,115.92 734.14,114.75 732.68,114.75 C 731.54,114.75 730.50,115.57 729.99,117.08"/>
<path id="t19" class="sd" d="M 954.93,113.73 L 957.78,111.32 L 957.78,122.27 M 967.02,111.32 L 962.42,111.32 L 962.21,115.92 C 963.06,115.38 964.01,115.27 964.90,115.38 C 966.49,115.60 967.28,117.35 967.28,118.99 C 967.28,121.18 966.22,122.27 964.64,122.27 C 963.58,122.27 962.63,121.84 962.00,121.18 M 974.51,111.32 L 969.76,122.27 M 977.42,113.73 L 980.27,111.32 L 980.27,122.27 M 988.98,111.54 C 988.45,111.32 987.93,111.32 987.40,111.32 C 985.45,111.32 984.49,114.61 984.49,118.11 C 984.49,120.96 985.55,122.27 987.13,122.27 C 988.72,122.27 989.78,120.74 989.78,118.66 C 989.78,116.58 988.72,115.49 987.24,115.49 C 986.08,115.49 985.02,116.25 984.49,117.68"/>
<path id="t20" class="sd" d="M 956.83,136.66 L 959.44,134.22 L 959.44,145.28 M 963.70,136.66 L 966.31,134.22 L 966.31,145.28 M 974.78,134.22 L 970.43,145.28 M 977.45,136.66 L 980.06,134.22 L 980.06,145.28 M 983.93,134.22 L 988.78,134.22 L 985.87,145.28 M 985.87,139.97 L 988.39,139.97"/>
<path id="t21" class="sd" d="M 834.23,203.53 L 836.98,201.12 L 836.98,212.08 M 843.62,201.12 C 841.32,201.12 841.07,204.96 841.07,206.60 C 841.07,208.24 841.32,212.08 843.62,212.08 C 845.92,212.08 846.18,208.24 846.18,206.60 C 846.18,204.96 845.92,201.12 843.62,201.12 Z"/>
<path id="t22" class="sd" d="M 882.93,192.03 L 885.98,189.62 L 885.98,200.58 M 894.02,189.62 L 890.51,197.29 L 896.18,197.29 M 894.93,194.22 L 894.93,200.58"/>
<text id="t23" x="257.50" y="425.42" font-size="18.35" textLength="66.43" lengthAdjust="spacing" transform="matrix(0.7081130524401181,0,0,1,75.16,0)" style="stroke:#000;stroke-width:0.3">Cables</text>
<path id="t24" class="sd" d="M 419.26,441.33 L 425.58,441.33 L 421.71,446.03 C 421.98,446.03 422.39,446.03 422.66,446.03 C 424.90,446.03 425.92,447.79 425.92,449.55 C 425.92,451.90 424.56,453.08 422.52,453.08 C 421.03,453.08 419.80,452.61 419.12,451.90 M 435.24,441.33 L 429.32,441.33 L 429.05,446.26 C 430.14,445.67 431.36,445.56 432.52,445.67 C 434.56,445.91 435.58,447.79 435.58,449.55 C 435.58,451.90 434.22,453.08 432.18,453.08 C 430.82,453.08 429.59,452.61 428.78,451.90"/>
<path id="t25" class="sd" d="M 419.26,517.73 L 425.58,517.73 L 421.71,522.75 C 421.98,522.75 422.39,522.75 422.66,522.75 C 424.90,522.75 425.92,524.63 425.92,526.51 C 425.92,529.02 424.56,530.27 422.52,530.27 C 421.03,530.27 419.80,529.77 419.12,529.02 M 428.91,517.73 L 435.24,517.73 L 431.36,522.75 C 431.63,522.75 432.04,522.75 432.31,522.75 C 434.56,522.75 435.58,524.63 435.58,526.51 C 435.58,529.02 434.22,530.27 432.18,530.27 C 430.68,530.27 429.46,529.77 428.78,529.02"/>
<path id="t26" class="sd" d="M 419.26,553.33 L 425.58,553.33 L 421.71,558.02 C 421.98,558.02 422.39,558.02 422.66,558.02 C 424.90,558.02 425.92,559.79 425.92,561.55 C 425.92,563.90 424.56,565.07 422.52,565.07 C 421.03,565.07 419.80,564.61 419.12,563.90 M 432.99,553.33 L 428.78,561.55 L 435.58,561.55 M 434.08,558.26 L 434.08,565.07"/>
<path id="t27" class="sd" d="M 398.46,647.02 L 404.51,647.02 L 400.80,651.85 C 401.06,651.85 401.45,651.85 401.71,651.85 C 403.86,651.85 404.83,653.65 404.83,655.46 C 404.83,657.87 403.53,659.07 401.58,659.07 C 400.15,659.07 398.98,658.59 398.33,657.87 M 407.70,649.43 C 408.22,647.63 409.39,647.02 410.82,647.02 C 412.77,647.02 414.08,648.71 414.08,650.88 C 414.08,652.45 413.55,653.41 412.77,654.50 L 407.57,659.07 L 414.08,659.07"/>
<text id="t28" x="42.10" y="543.69" font-size="10.99" textLength="42.88" lengthAdjust="spacing" transform="matrix(0.8205628517823685,0,0,1,7.55,0)" style="stroke:#000;stroke-width:0.12">ss9SQ:</text>
<path id="t29" class="sd" d="M 1.25,556.83 L 7.15,556.83 L 3.54,561.65 C 3.79,561.65 4.17,561.65 4.42,561.65 C 6.52,561.65 7.47,563.45 7.47,565.26 C 7.47,567.67 6.20,568.88 4.30,568.88 C 2.90,568.88 1.76,568.39 1.12,567.67 M 15.52,557.07 C 14.89,556.83 14.25,556.83 13.62,556.83 C 11.27,556.83 10.13,560.44 10.13,564.30 C 10.13,567.43 11.40,568.88 13.30,568.88 C 15.21,568.88 16.48,567.19 16.48,564.90 C 16.48,562.61 15.21,561.40 13.43,561.40 C 12.03,561.40 10.77,562.25 10.13,563.81"/>
<path id="t30" class="sd" d="M 656.03,423.73 L 652.23,431.88 L 658.37,431.88 M 657.02,428.62 L 657.02,435.38 M 664.02,423.73 C 661.25,423.73 660.95,427.80 660.95,429.55 C 660.95,431.30 661.25,435.38 664.02,435.38 C 666.78,435.38 667.09,431.30 667.09,429.55 C 667.09,427.80 666.78,423.73 664.02,423.73 Z M 675.50,423.73 L 669.97,435.38 M 682.20,423.73 L 678.39,431.88 L 684.53,431.88 M 683.18,428.62 L 683.18,435.38 M 687.60,426.29 L 690.92,423.73 L 690.92,435.38 M 701.66,423.73 L 696.14,435.38 M 708.36,423.73 L 704.55,431.88 L 710.69,431.88 M 709.34,428.62 L 709.34,435.38 M 713.39,426.06 C 713.89,424.31 714.99,423.73 716.34,423.73 C 718.18,423.73 719.41,425.36 719.41,427.45 C 719.41,428.97 718.92,429.90 718.18,430.95 L 713.27,435.38 L 719.41,435.38 M 727.83,423.73 L 722.30,435.38 M 734.52,423.73 L 730.71,431.88 L 736.85,431.88 M 735.50,428.62 L 735.50,435.38 M 739.56,423.73 L 745.27,423.73 L 741.77,428.39 C 742.01,428.39 742.38,428.39 742.63,428.39 C 744.65,428.39 745.57,430.13 745.57,431.88 C 745.57,434.21 744.35,435.38 742.50,435.38 C 741.15,435.38 740.05,434.91 739.43,434.21"/>
<path id="t31" class="sd" d="M 926.15,420.43 L 931.81,420.43 L 928.34,425.09 C 928.58,425.09 928.95,425.09 929.19,425.09 C 931.20,425.09 932.12,426.83 932.12,428.58 C 932.12,430.91 930.90,432.08 929.07,432.08 C 927.73,432.08 926.63,431.61 926.02,430.91 M 934.68,420.43 L 940.77,420.43 L 937.11,432.08 M 937.11,426.48 L 940.28,426.48 M 949.11,420.43 L 943.63,432.08 M 952.10,420.43 L 957.77,420.43 L 954.29,425.09 C 954.54,425.09 954.90,425.09 955.15,425.09 C 957.16,425.09 958.07,426.83 958.07,428.58 C 958.07,430.91 956.85,432.08 955.02,432.08 C 953.68,432.08 952.59,431.61 951.98,430.91 M 963.68,425.55 C 961.85,425.55 960.99,424.39 960.99,422.99 C 960.99,421.36 962.09,420.43 963.68,420.43 C 965.26,420.43 966.36,421.36 966.36,422.99 C 966.36,424.39 965.50,425.55 963.68,425.55 C 961.73,425.55 960.63,426.95 960.63,428.81 C 960.63,430.91 961.85,432.08 963.68,432.08 C 965.50,432.08 966.72,430.91 966.72,428.81 C 966.72,426.95 965.63,425.55 963.68,425.55 Z M 975.07,420.43 L 969.59,432.08 M 978.05,420.43 L 983.72,420.43 L 980.25,425.09 C 980.49,425.09 980.86,425.09 981.10,425.09 C 983.11,425.09 984.02,426.83 984.02,428.58 C 984.02,430.91 982.81,432.08 980.98,432.08 C 979.64,432.08 978.54,431.61 977.93,430.91 M 992.68,424.62 C 992.68,426.95 991.46,427.65 989.63,427.65 C 987.80,427.65 986.58,426.48 986.58,424.15 C 986.58,421.82 987.80,420.43 989.63,420.43 C 991.46,420.43 992.68,421.82 992.68,424.62 C 992.68,428.11 991.15,430.91 988.53,432.08"/>
<text id="t32" x="990.99" y="548.01" font-size="10.39" textLength="76.96" lengthAdjust="spacing" transform="matrix(0.9037164412259779,0,0,1,95.42,0)" font-style="italic" style="fill:#333;stroke:#333;stroke-width:0.25">Exploded view</text>
<text id="t33" x="991.50" y="564.77" font-size="12.96" textLength="98.61" lengthAdjust="spacing" transform="matrix(0.8105797101449344,0,0,1,187.81,0)" style="stroke:#000;stroke-width:0.12">ePS2 Sensors</text>
<path id="t34" class="sd" d="M 692.70,596.62 L 688.23,604.78 L 695.44,604.78 M 693.85,601.52 L 693.85,608.27 M 702.93,596.62 L 698.46,604.78 L 705.68,604.78 M 704.09,601.52 L 704.09,608.27"/>
<text id="t35" x="815.20" y="608.35" font-size="17.68" textLength="69.73" lengthAdjust="spacing" transform="matrix(0.7422236996500845,0,0,1,210.14,0)" style="stroke:#000;stroke-width:0.3">EC-Oil:</text>
<text id="t36" x="832.47" y="625.75" font-size="14.20" textLength="30.78" lengthAdjust="spacing" transform="matrix(0.6618586441376393,0,0,1,281.49,0)" style="stroke:#000;stroke-width:0.12">2bl.</text>
<text id="t37" x="909.53" y="648.86" font-size="14.42" textLength="31.31" lengthAdjust="spacing" transform="matrix(0.5875322723360892,0,0,1,375.15,0)" style="stroke:#000;stroke-width:0.12">1bl.</text>
<text id="t38" x="659.63" y="693.25" font-size="13.41" textLength="97.58" lengthAdjust="spacing" transform="matrix(0.8266656970282421,0,0,1,114.34,0)" style="stroke:#000;stroke-width:0.12">Lock valve JT:</text>
<path id="t39" class="sd" d="M 730.24,703.52 L 726.02,711.19 L 732.82,711.19 M 731.33,708.12 L 731.33,714.48 M 742.14,703.52 L 736.22,703.52 L 735.95,708.12 C 737.04,707.58 738.26,707.47 739.42,707.58 C 741.46,707.80 742.48,709.55 742.48,711.19 C 742.48,713.38 741.12,714.48 739.08,714.48 C 737.72,714.48 736.49,714.04 735.68,713.38"/>
<text id="t40" x="991.80" y="687.29" font-size="11.47" textLength="82.18" lengthAdjust="spacing" transform="matrix(0.830426194382135,0,0,1,168.18,0)" font-style="italic" style="fill:#333;stroke:#333;stroke-width:0.25">Exploded view</text>
<text id="t41" x="988.99" y="703.73" font-size="13.95" textLength="146.45" lengthAdjust="spacing" transform="matrix(0.7374870897034719,0,0,1,259.62,0)" style="stroke:#000;stroke-width:0.12">EC-Oil components</text>
<text id="t42" x="221.40" y="743.21" font-size="18.88" textLength="149.29" lengthAdjust="spacing" transform="matrix(0.7310590554669478,0,0,1,59.54,0)" style="stroke:#000;stroke-width:0.3">SPARE PARTS</text>
<text id="t43" x="220.70" y="787.05" font-size="15.17" textLength="164.70" lengthAdjust="spacing" transform="matrix(0.6688783570300164,0,0,1,73.08,0)" style="stroke:#000;stroke-width:0.12">EC214 until 2024-05</text>
<path id="t44" class="sd" d="M 164.03,834.02 C 164.03,836.57 162.79,837.33 160.93,837.33 C 159.07,837.33 157.82,836.06 157.82,833.50 C 157.82,830.96 159.07,829.43 160.93,829.43 C 162.79,829.43 164.03,830.96 164.03,834.02 C 164.03,837.84 162.48,840.90 159.81,842.17 M 172.54,829.43 L 166.95,842.17 M 179.30,829.43 L 175.45,838.35 L 181.66,838.35 M 180.30,834.78 L 180.30,842.17 M 190.47,834.02 C 190.47,836.57 189.23,837.33 187.37,837.33 C 185.51,837.33 184.27,836.06 184.27,833.50 C 184.27,830.96 185.51,829.43 187.37,829.43 C 189.23,829.43 190.47,830.96 190.47,834.02 C 190.47,837.84 188.92,840.90 186.25,842.17"/>
<path id="t45" class="sd" d="M 392.29,834.02 C 392.29,836.57 391.06,837.33 389.21,837.33 C 387.36,837.33 386.12,836.06 386.12,833.50 C 386.12,830.96 387.36,829.43 389.21,829.43 C 391.06,829.43 392.29,830.96 392.29,834.02 C 392.29,837.84 390.75,840.90 388.10,842.17 M 400.75,829.43 L 395.19,842.17 M 407.47,829.43 L 403.65,838.35 L 409.81,838.35 M 408.46,834.78 L 408.46,842.17 M 418.58,834.02 C 418.58,836.57 417.34,837.33 415.49,837.33 C 413.64,837.33 412.41,836.06 412.41,833.50 C 412.41,830.96 413.64,829.43 415.49,829.43 C 417.34,829.43 418.58,830.96 418.58,834.02 C 418.58,837.84 417.03,840.90 414.38,842.17"/>
<path id="t46" class="sd" d="M 384.93,858.39 L 387.61,855.62 L 387.61,868.17 M 391.99,858.39 L 394.68,855.62 L 394.68,868.17 M 403.39,855.62 L 398.91,868.17 M 406.13,858.39 L 408.82,855.62 L 408.82,868.17 M 412.80,855.62 L 417.78,855.62 L 414.79,868.17 M 414.79,862.15 L 417.38,862.15"/>
<path id="t47" class="sd" d="M 182.30,878.38 C 180.45,878.38 179.59,877.25 179.59,875.90 C 179.59,874.33 180.70,873.43 182.30,873.43 C 183.90,873.43 185.01,874.33 185.01,875.90 C 185.01,877.25 184.14,878.38 182.30,878.38 C 180.33,878.38 179.22,879.73 179.22,881.52 C 179.22,883.55 180.45,884.67 182.30,884.67 C 184.14,884.67 185.38,883.55 185.38,881.52 C 185.38,879.73 184.27,878.38 182.30,878.38 Z"/>
<path id="t48" class="sd" d="M 334.53,887.69 L 337.47,884.93 L 337.47,897.48 M 344.55,884.93 C 342.10,884.93 341.83,889.32 341.83,891.20 C 341.83,893.08 342.10,897.48 344.55,897.48 C 347.00,897.48 347.28,893.08 347.28,891.20 C 347.28,889.32 347.00,884.93 344.55,884.93 Z"/>
<text id="t49" x="204.70" y="915.81" font-size="12.82" textLength="189.15" lengthAdjust="spacing" transform="matrix(0.8338351855734946,0,0,1,34.01,0)" style="stroke:#000;stroke-width:0.12">o-rings, coils, &amp; nuts are not</text>
<text id="t50" x="204.70" y="929.97" font-size="12.03" textLength="212.60" lengthAdjust="spacing" transform="matrix(0.8260504797948025,0,0,1,35.61,0)" style="stroke:#000;stroke-width:0.12">compatible between valve brands</text>
<text id="t51" x="256.39" y="970.06" font-size="14.37" textLength="46.52" lengthAdjust="spacing" transform="matrix(0.8490433896330788,0,0,1,38.70,0)" style="stroke:#000;stroke-width:0.3">ePS1:</text>
<path id="t52" class="sd" d="M 75.91,983.97 C 75.22,983.73 74.52,983.73 73.83,983.73 C 71.27,983.73 70.02,987.37 70.02,991.26 C 70.02,994.42 71.41,995.88 73.49,995.88 C 75.56,995.88 76.95,994.17 76.95,991.87 C 76.95,989.56 75.56,988.34 73.62,988.34 C 72.10,988.34 70.72,989.19 70.02,990.77 M 86.43,983.73 L 80.41,983.73 L 80.13,988.83 C 81.24,988.22 82.48,988.10 83.66,988.22 C 85.74,988.46 86.78,990.41 86.78,992.23 C 86.78,994.66 85.39,995.88 83.31,995.88 C 81.93,995.88 80.68,995.39 79.85,994.66"/>
<path id="t53" class="sd" d="M 135.38,983.97 C 134.77,983.73 134.17,983.73 133.56,983.73 C 131.32,983.73 130.22,987.37 130.22,991.26 C 130.22,994.42 131.44,995.88 133.26,995.88 C 135.08,995.88 136.29,994.17 136.29,991.87 C 136.29,989.56 135.08,988.34 133.38,988.34 C 132.04,988.34 130.83,989.19 130.22,990.77 M 138.96,986.15 C 139.44,984.33 140.54,983.73 141.87,983.73 C 143.69,983.73 144.90,985.43 144.90,987.61 C 144.90,989.19 144.42,990.16 143.69,991.26 L 138.84,995.88 L 144.90,995.88 M 153.21,983.73 L 147.75,995.88 M 161.22,983.97 C 160.61,983.73 160.00,983.73 159.40,983.73 C 157.15,983.73 156.06,987.37 156.06,991.26 C 156.06,994.42 157.27,995.88 159.09,995.88 C 160.91,995.88 162.13,994.17 162.13,991.87 C 162.13,989.56 160.91,988.34 159.22,988.34 C 157.88,988.34 156.67,989.19 156.06,990.77 M 164.79,983.73 L 170.44,983.73 L 166.98,988.59 C 167.22,988.59 167.58,988.59 167.83,988.59 C 169.83,988.59 170.74,990.41 170.74,992.23 C 170.74,994.66 169.53,995.88 167.71,995.88 C 166.37,995.88 165.28,995.39 164.67,994.66 M 179.05,983.73 L 173.59,995.88 M 187.05,983.97 C 186.45,983.73 185.84,983.73 185.23,983.73 C 182.99,983.73 181.90,987.37 181.90,991.26 C 181.90,994.42 183.11,995.88 184.93,995.88 C 186.75,995.88 187.96,994.17 187.96,991.87 C 187.96,989.56 186.75,988.34 185.05,988.34 C 183.72,988.34 182.50,989.19 181.90,990.77 M 194.27,983.73 L 190.51,992.23 L 196.58,992.23 M 195.24,988.83 L 195.24,995.88"/>
<path id="t54" class="sd" d="M 24.63,1023.68 C 23.96,1023.43 23.29,1023.43 22.62,1023.43 C 20.13,1023.43 18.93,1027.22 18.93,1031.27 C 18.93,1034.56 20.27,1036.08 22.28,1036.08 C 24.30,1036.08 25.64,1034.30 25.64,1031.90 C 25.64,1029.50 24.30,1028.23 22.42,1028.23 C 20.94,1028.23 19.60,1029.12 18.93,1030.76 M 28.46,1023.43 L 35.17,1023.43 L 31.15,1036.08 M 31.15,1030.00 L 34.64,1030.00"/>
<path id="t55" class="sd" d="M 50.66,1031.67 C 50.00,1031.42 49.34,1031.42 48.67,1031.42 C 46.22,1031.42 45.02,1035.07 45.02,1038.96 C 45.02,1042.12 46.35,1043.57 48.34,1043.57 C 50.33,1043.57 51.66,1041.87 51.66,1039.57 C 51.66,1037.26 50.33,1036.04 48.47,1036.04 C 47.01,1036.04 45.69,1036.89 45.02,1038.47 M 60.08,1031.67 C 59.42,1031.42 58.75,1031.42 58.09,1031.42 C 55.64,1031.42 54.44,1035.07 54.44,1038.96 C 54.44,1042.12 55.77,1043.57 57.76,1043.57 C 59.75,1043.57 61.08,1041.87 61.08,1039.57 C 61.08,1037.26 59.75,1036.04 57.89,1036.04 C 56.43,1036.04 55.11,1036.89 54.44,1038.47"/>
<path id="t56" class="sd" d="M 280.03,983.93 L 274.44,983.93 L 274.18,988.86 C 275.21,988.27 276.37,988.16 277.46,988.27 C 279.39,988.51 280.35,990.39 280.35,992.15 C 280.35,994.50 279.07,995.67 277.14,995.67 C 275.85,995.67 274.70,995.21 273.93,994.50 M 289.15,983.93 L 283.56,983.93 L 283.31,988.86 C 284.33,988.27 285.49,988.16 286.58,988.27 C 288.51,988.51 289.48,990.39 289.48,992.15 C 289.48,994.50 288.19,995.67 286.26,995.67 C 284.98,995.67 283.82,995.21 283.05,994.50"/>
<path id="t57" class="sd" d="M 380.53,983.23 L 374.94,983.23 L 374.68,988.12 C 375.71,987.54 376.87,987.42 377.96,987.54 C 379.89,987.77 380.85,989.63 380.85,991.38 C 380.85,993.71 379.57,994.88 377.64,994.88 C 376.35,994.88 375.20,994.41 374.43,993.71 M 386.76,988.35 C 384.83,988.35 383.93,987.19 383.93,985.79 C 383.93,984.16 385.09,983.23 386.76,983.23 C 388.43,983.23 389.59,984.16 389.59,985.79 C 389.59,987.19 388.69,988.35 386.76,988.35 C 384.71,988.35 383.55,989.75 383.55,991.61 C 383.55,993.71 384.83,994.88 386.76,994.88 C 388.69,994.88 389.98,993.71 389.98,991.61 C 389.98,989.75 388.82,988.35 386.76,988.35 Z"/>
<path id="t58" class="sd" d="M 279.60,1054.32 L 273.76,1054.32 L 273.49,1059.55 C 274.57,1058.93 275.78,1058.81 276.92,1058.93 C 278.93,1059.18 279.94,1061.17 279.94,1063.04 C 279.94,1065.53 278.60,1066.77 276.58,1066.77 C 275.24,1066.77 274.03,1066.28 273.23,1065.53 M 286.92,1054.32 L 282.76,1063.04 L 289.48,1063.04 M 288.00,1059.55 L 288.00,1066.77"/>
<path id="t59" class="sd" d="M 360.05,1033.42 L 354.81,1033.42 L 354.57,1038.32 C 355.53,1037.74 356.61,1037.62 357.64,1037.74 C 359.45,1037.97 360.35,1039.83 360.35,1041.58 C 360.35,1043.91 359.15,1045.07 357.34,1045.07 C 356.13,1045.07 355.05,1044.61 354.33,1043.91 M 368.00,1033.66 C 367.40,1033.42 366.80,1033.42 366.20,1033.42 C 363.97,1033.42 362.88,1036.92 362.88,1040.65 C 362.88,1043.68 364.09,1045.07 365.89,1045.07 C 367.70,1045.07 368.91,1043.44 368.91,1041.23 C 368.91,1039.02 367.70,1037.85 366.01,1037.85 C 364.69,1037.85 363.48,1038.67 362.88,1040.18 M 377.16,1033.42 L 371.74,1045.07 M 385.72,1033.42 L 380.48,1033.42 L 380.23,1038.32 C 381.20,1037.74 382.28,1037.62 383.31,1037.74 C 385.12,1037.97 386.02,1039.83 386.02,1041.58 C 386.02,1043.91 384.81,1045.07 383.01,1045.07 C 381.80,1045.07 380.72,1044.61 379.99,1043.91 M 388.55,1033.42 L 394.58,1033.42 L 390.96,1045.07 M 390.96,1039.48 L 394.09,1039.48"/>
<path id="t60" class="sd" d="M 280.03,1080.52 L 274.44,1080.52 L 274.18,1085.12 C 275.21,1084.58 276.37,1084.47 277.46,1084.58 C 279.39,1084.80 280.35,1086.55 280.35,1088.19 C 280.35,1090.38 279.07,1091.47 277.14,1091.47 C 275.85,1091.47 274.70,1091.04 273.93,1090.38 M 283.18,1080.52 L 289.15,1080.52 L 285.49,1084.90 C 285.75,1084.90 286.13,1084.90 286.39,1084.90 C 288.51,1084.90 289.48,1086.55 289.48,1088.19 C 289.48,1090.38 288.19,1091.47 286.26,1091.47 C 284.85,1091.47 283.69,1091.04 283.05,1090.38"/>
<path id="t61" class="sd" d="M 380.53,1080.52 L 374.94,1080.52 L 374.68,1085.12 C 375.71,1084.58 376.87,1084.47 377.96,1084.58 C 379.89,1084.80 380.85,1086.55 380.85,1088.19 C 380.85,1090.38 379.57,1091.47 377.64,1091.47 C 376.35,1091.47 375.20,1091.04 374.43,1090.38 M 383.68,1080.52 L 389.65,1080.52 L 385.99,1084.90 C 386.25,1084.90 386.63,1084.90 386.89,1084.90 C 389.01,1084.90 389.98,1086.55 389.98,1088.19 C 389.98,1090.38 388.69,1091.47 386.76,1091.47 C 385.35,1091.47 384.19,1091.04 383.55,1090.38"/>
<path id="t62" class="sd" d="M 523.35,987.47 C 522.71,987.23 522.07,987.23 521.44,987.23 C 519.07,987.23 517.93,990.87 517.93,994.76 C 517.93,997.92 519.20,999.38 521.12,999.38 C 523.03,999.38 524.31,997.67 524.31,995.37 C 524.31,993.06 523.03,991.84 521.24,991.84 C 519.84,991.84 518.56,992.69 517.93,994.27 M 530.18,987.23 C 527.31,987.23 526.99,991.48 526.99,993.30 C 526.99,995.12 527.31,999.38 530.18,999.38 C 533.06,999.38 533.38,995.12 533.38,993.30 C 533.38,991.48 533.06,987.23 530.18,987.23 Z"/>
<path id="t63" class="sd" d="M 523.99,1035.12 L 518.44,1035.12 L 518.18,1040.23 C 519.20,1039.62 520.35,1039.50 521.44,1039.62 C 523.35,1039.86 524.31,1041.81 524.31,1043.63 C 524.31,1046.06 523.03,1047.27 521.12,1047.27 C 519.84,1047.27 518.69,1046.79 517.93,1046.06 M 533.38,1039.50 C 533.38,1041.93 532.10,1042.66 530.18,1042.66 C 528.27,1042.66 526.99,1041.44 526.99,1039.01 C 526.99,1036.58 528.27,1035.12 530.18,1035.12 C 532.10,1035.12 533.38,1036.58 533.38,1039.50 C 533.38,1043.14 531.78,1046.06 529.03,1047.27"/>
<path id="t64" class="sd" d="M 524.99,1074.36 C 524.33,1074.12 523.68,1074.12 523.02,1074.12 C 520.60,1074.12 519.43,1077.59 519.43,1081.29 C 519.43,1084.29 520.73,1085.67 522.70,1085.67 C 524.66,1085.67 525.97,1084.06 525.97,1081.86 C 525.97,1079.67 524.66,1078.51 522.83,1078.51 C 521.39,1078.51 520.08,1079.32 519.43,1080.82 M 529.24,1076.67 L 532.77,1074.12 L 532.77,1085.67"/>
<text id="t65" x="453.56" y="1069.69" font-size="9.92" textLength="27.98" lengthAdjust="spacing" transform="matrix(0.6317477931904164,0,0,1,167.03,0)" style="stroke:#000;stroke-width:0.12">ECO:</text>
<path id="t66" class="sd" d="M 990.12,975.73 L 983.99,975.73 L 983.71,980.83 C 984.83,980.22 986.10,980.10 987.30,980.22 C 989.41,980.46 990.47,982.41 990.47,984.23 C 990.47,986.66 989.06,987.88 986.95,987.88 C 985.54,987.88 984.27,987.39 983.43,986.66 M 996.95,975.73 C 993.78,975.73 993.43,979.98 993.43,981.80 C 993.43,983.62 993.78,987.88 996.95,987.88 C 1000.12,987.88 1000.48,983.62 1000.48,981.80 C 1000.48,979.98 1000.12,975.73 996.95,975.73 Z"/>
<path id="t67" class="sd" d="M 983.57,1012.02 L 990.12,1012.02 L 986.10,1016.88 C 986.38,1016.88 986.81,1016.88 987.09,1016.88 C 989.41,1016.88 990.47,1018.71 990.47,1020.53 C 990.47,1022.96 989.06,1024.18 986.95,1024.18 C 985.40,1024.18 984.13,1023.69 983.43,1022.96 M 997.80,1012.02 L 993.43,1020.53 L 1000.48,1020.53 M 998.93,1017.13 L 998.93,1024.18"/>
<text id="t68" x="768.10" y="1061.29" font-size="11.13" textLength="43.43" lengthAdjust="spacing" transform="matrix(0.8101759802408042,0,0,1,145.80,0)" style="stroke:#000;stroke-width:0.12">ss9SQ:</text>
<text id="t69" x="858.10" y="1061.29" font-size="11.13" textLength="38.28" lengthAdjust="spacing" transform="matrix(0.8202426525338254,0,0,1,154.25,0)" style="stroke:#000;stroke-width:0.12">ss9IQ:</text>
<path id="t70" class="sd" d="M 734.84,1072.52 L 728.97,1072.52 L 728.70,1077.88 C 729.78,1077.24 730.99,1077.11 732.14,1077.24 C 734.17,1077.50 735.18,1079.54 735.18,1081.45 C 735.18,1084.00 733.83,1085.27 731.80,1085.27 C 730.45,1085.27 729.24,1084.76 728.43,1084.00 M 738.15,1075.07 C 738.69,1073.16 739.91,1072.52 741.40,1072.52 C 743.42,1072.52 744.78,1074.31 744.78,1076.60 C 744.78,1078.26 744.23,1079.28 743.42,1080.43 L 738.02,1085.27 L 744.78,1085.27"/>
<path id="t71" class="sd" d="M 936.12,1068.42 L 929.53,1068.42 L 929.23,1073.19 C 930.44,1072.62 931.80,1072.51 933.09,1072.62 C 935.36,1072.85 936.50,1074.67 936.50,1076.37 C 936.50,1078.64 934.98,1079.77 932.71,1079.77 C 931.20,1079.77 929.83,1079.32 928.93,1078.64 M 940.29,1070.92 L 944.38,1068.42 L 944.38,1079.77"/></g>
</svg></body></html>
